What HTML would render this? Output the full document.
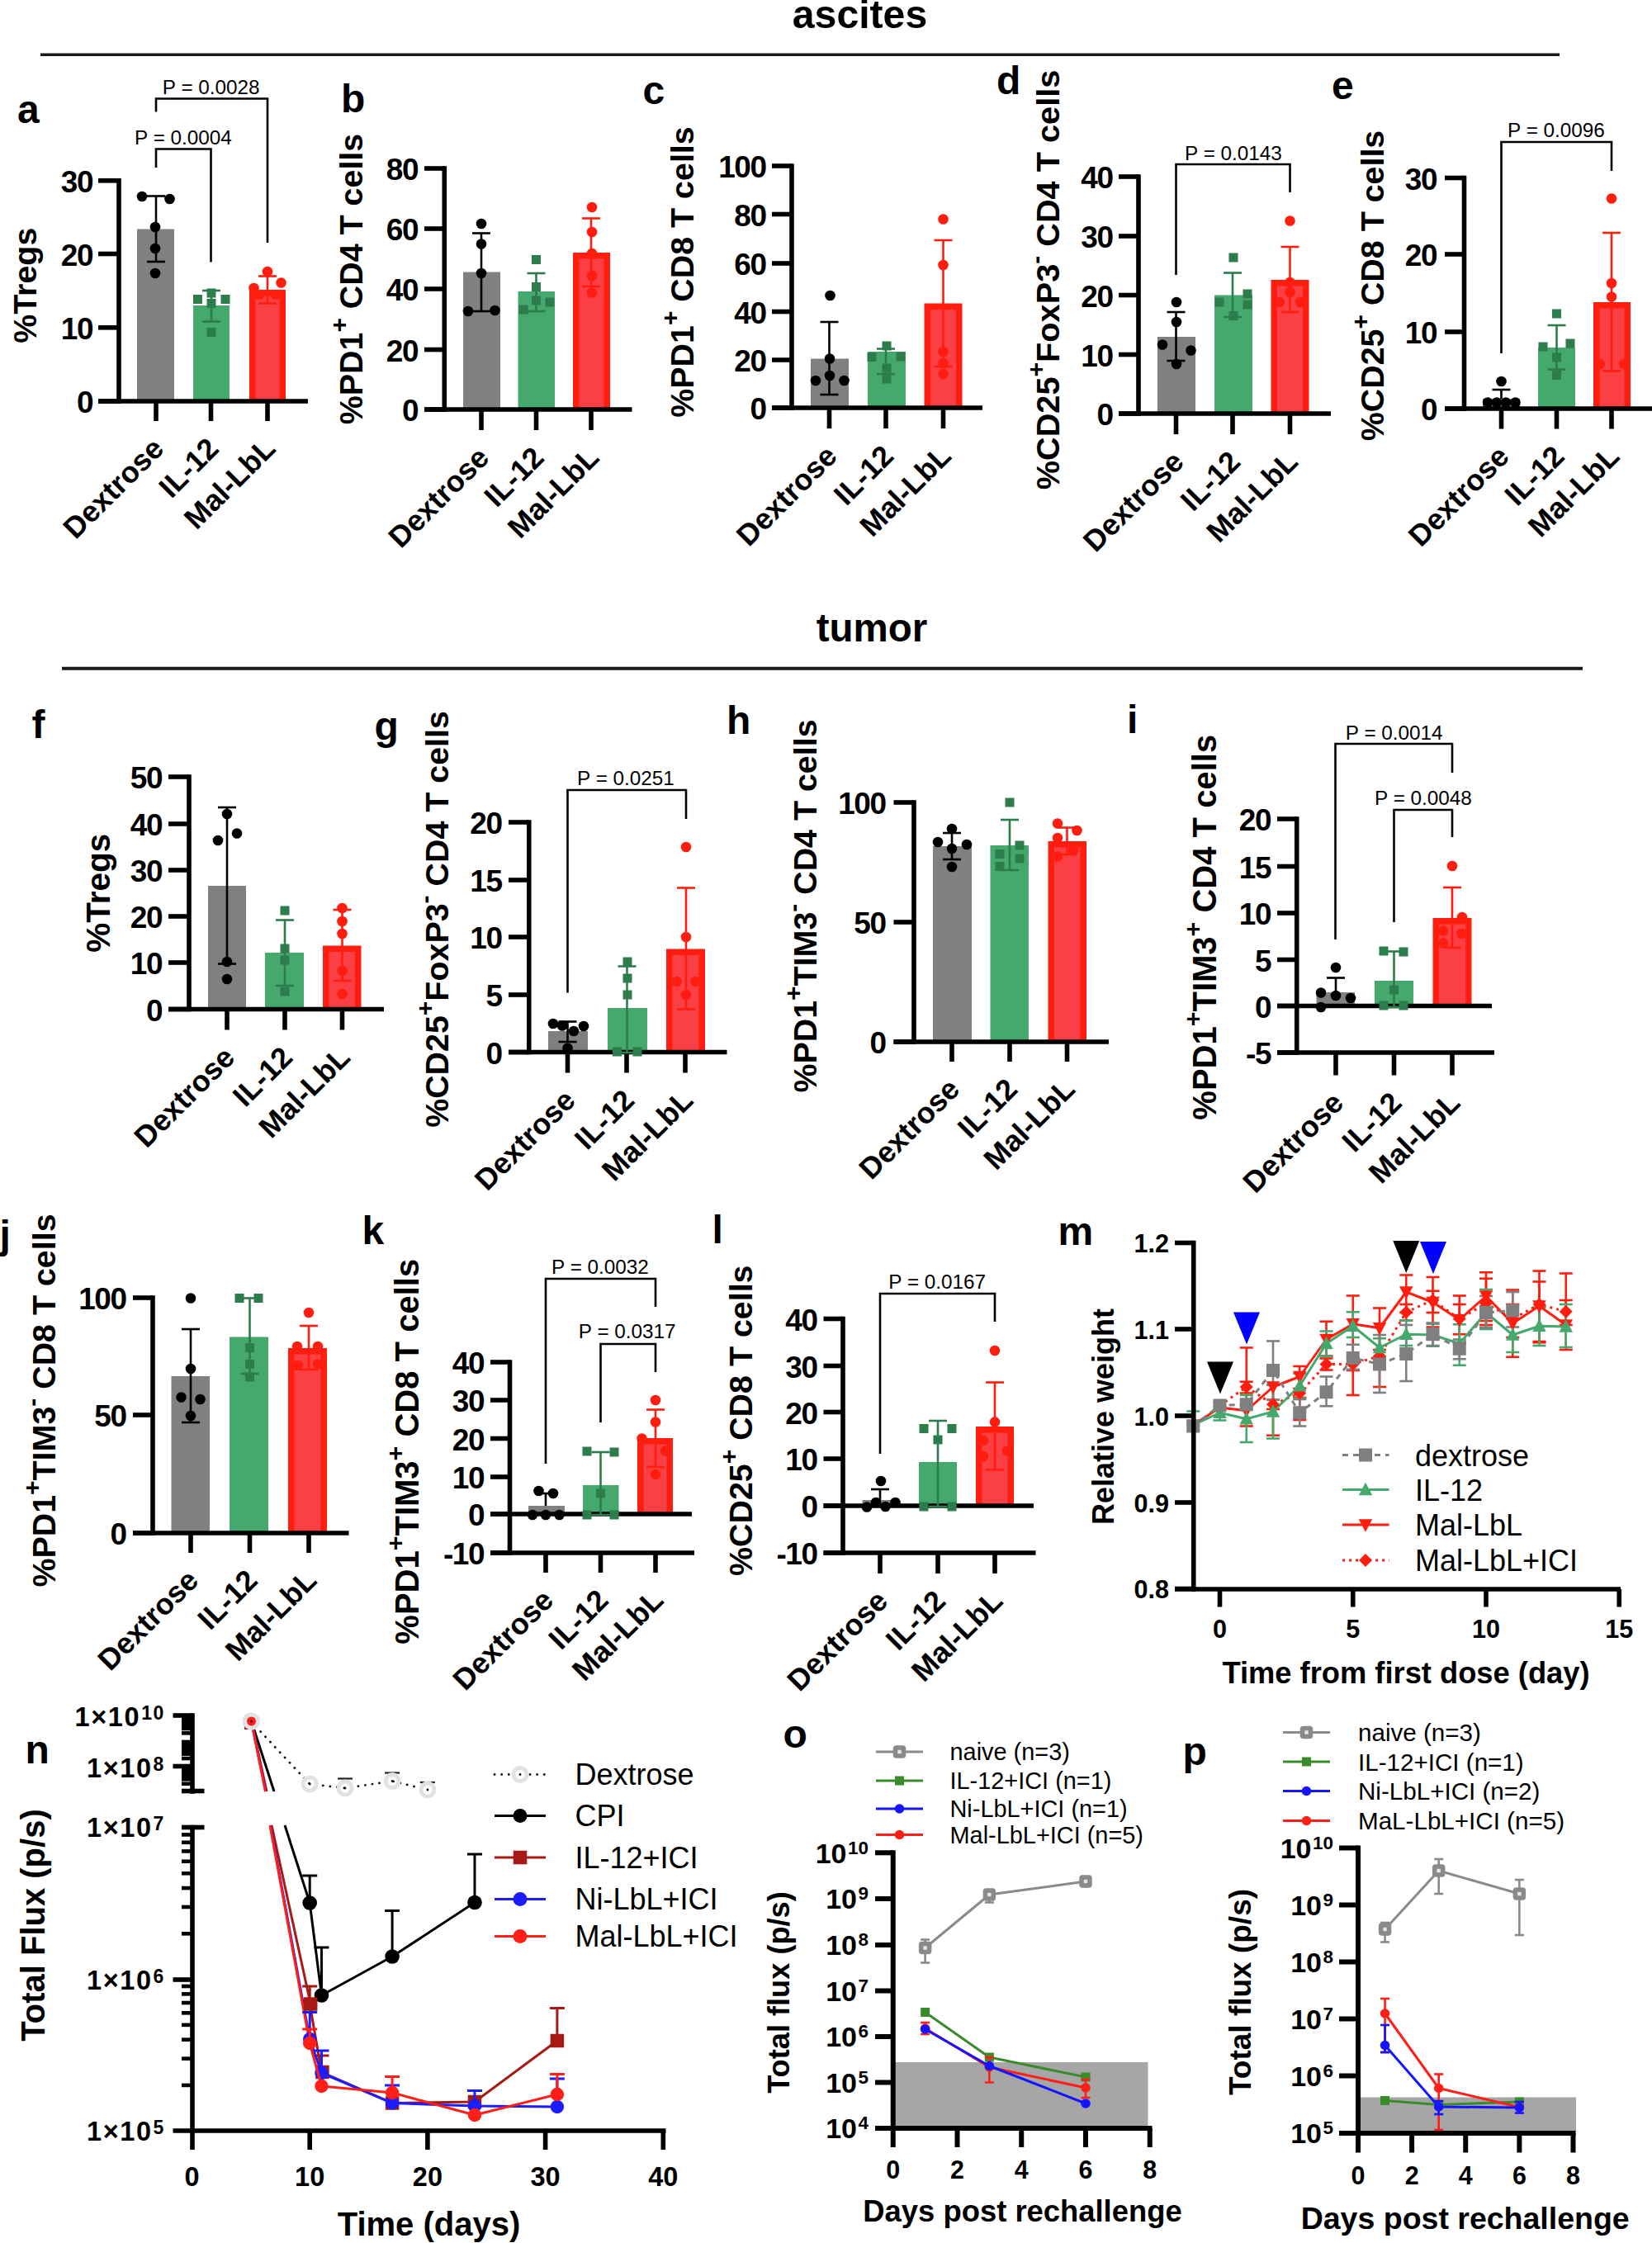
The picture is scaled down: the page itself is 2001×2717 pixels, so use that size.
<!DOCTYPE html>
<html><head><meta charset="utf-8"><title>figure</title>
<style>html,body{margin:0;padding:0;background:#fff}svg{display:block}text{font-family:'Liberation Sans', sans-serif}</style>
</head><body>
<svg width="2001" height="2717" viewBox="0 0 2001 2717">
<rect x="0" y="0" width="2001" height="2717" fill="#fff"/>
<text x="1041.5" y="34.4" font-size="48.2" font-weight="bold" text-anchor="middle" fill="#000" >ascites</text>
<line x1="49" y1="66.2" x2="1889" y2="66.2" stroke="#1a1a1a" stroke-width="3.6" />
<text x="1056" y="777" font-size="47.5" font-weight="bold" text-anchor="middle" fill="#000" >tumor</text>
<line x1="75" y1="809.7" x2="1917" y2="809.7" stroke="#1a1a1a" stroke-width="4" />
<rect x="166" y="277.5" width="45" height="208.5" fill="#808080" />
<rect x="234" y="370" width="44" height="116" fill="#45a96d" />
<rect x="302" y="351" width="44" height="135" fill="#ff1d10" />
<rect x="309.5" y="358.5" width="29" height="127.5" fill="#fa4044" />
<line x1="144" y1="216" x2="144" y2="488.8" stroke="#000" stroke-width="5.6" />
<line x1="119" y1="486" x2="373" y2="486" stroke="#000" stroke-width="5.6" />
<line x1="119" y1="218.8" x2="144" y2="218.8" stroke="#000" stroke-width="5.6" />
<text x="112" y="233.05" font-size="37" font-weight="bold" text-anchor="end" fill="#000" letter-spacing="-1.5">30</text>
<line x1="119" y1="307.5" x2="144" y2="307.5" stroke="#000" stroke-width="5.6" />
<text x="112" y="321.75" font-size="37" font-weight="bold" text-anchor="end" fill="#000" letter-spacing="-1.5">20</text>
<line x1="119" y1="396.8" x2="144" y2="396.8" stroke="#000" stroke-width="5.6" />
<text x="112" y="411.05" font-size="37" font-weight="bold" text-anchor="end" fill="#000" letter-spacing="-1.5">10</text>
<line x1="119" y1="486" x2="144" y2="486" stroke="#000" stroke-width="5.6" />
<text x="112" y="500.25" font-size="37" font-weight="bold" text-anchor="end" fill="#000" letter-spacing="-1.5">0</text>
<line x1="189" y1="486" x2="189" y2="510" stroke="#000" stroke-width="5.6" />
<line x1="255.5" y1="486" x2="255.5" y2="510" stroke="#000" stroke-width="5.6" />
<line x1="324" y1="486" x2="324" y2="510" stroke="#000" stroke-width="5.6" />
<line x1="189" y1="237.5" x2="189" y2="317" stroke="#000" stroke-width="2.6" />
<line x1="178" y1="237.5" x2="200" y2="237.5" stroke="#000" stroke-width="2.6" />
<line x1="178" y1="317" x2="200" y2="317" stroke="#000" stroke-width="2.6" />
<line x1="256" y1="352" x2="256" y2="389.5" stroke="#2c7c4c" stroke-width="2.6" />
<line x1="245" y1="352" x2="267" y2="352" stroke="#2c7c4c" stroke-width="2.6" />
<line x1="245" y1="389.5" x2="267" y2="389.5" stroke="#2c7c4c" stroke-width="2.6" />
<line x1="324" y1="334.5" x2="324" y2="367.5" stroke="#ff1d10" stroke-width="2.6" />
<line x1="313" y1="334.5" x2="335" y2="334.5" stroke="#ff1d10" stroke-width="2.6" />
<line x1="313" y1="367.5" x2="335" y2="367.5" stroke="#ff1d10" stroke-width="2.6" />
<circle cx="172" cy="238" r="6.3" fill="#000" />
<circle cx="205.5" cy="241" r="6.3" fill="#000" />
<circle cx="188" cy="275" r="6.3" fill="#000" />
<circle cx="188" cy="301" r="6.3" fill="#000" />
<circle cx="188" cy="331" r="6.3" fill="#000" />
<rect x="234" y="357" width="11" height="11" fill="#2c7c4c" />
<rect x="250.5" y="349.5" width="11" height="11" fill="#2c7c4c" />
<rect x="267.5" y="357" width="11" height="11" fill="#2c7c4c" />
<rect x="250.5" y="362" width="11" height="11" fill="#2c7c4c" />
<rect x="250.5" y="397" width="11" height="11" fill="#2c7c4c" />
<circle cx="324" cy="329" r="6.3" fill="#ff1d10" />
<circle cx="340.5" cy="342.5" r="6.3" fill="#ff1d10" />
<circle cx="307.5" cy="349" r="6.3" fill="#ff1d10" />
<circle cx="314" cy="357" r="6.3" fill="#ff1d10" />
<circle cx="334" cy="357" r="6.3" fill="#ff1d10" />
<text x="0" y="0" transform="translate(200.5 545.5) rotate(-45)" font-size="36" font-weight="bold" text-anchor="end" fill="#000" >Dextrose</text>
<text x="0" y="0" transform="translate(267 545.5) rotate(-45)" font-size="36" font-weight="bold" text-anchor="end" fill="#000" >IL-12</text>
<text x="0" y="0" transform="translate(335.5 545.5) rotate(-45)" font-size="36" font-weight="bold" text-anchor="end" fill="#000" >Mal-LbL</text>
<text x="0" y="0" transform="translate(44 345.75) rotate(-90)" font-size="39.4" font-weight="bold" text-anchor="middle" ><tspan dy="0">%Tregs</tspan></text>
<text x="21" y="148.5" font-size="48" font-weight="bold" text-anchor="start" fill="#000" >a</text>
<text x="255.75" y="114" font-size="24.3" font-weight="normal" text-anchor="middle" fill="#000" >P = 0.0028</text>
<path d="M189 135.5 V119.5 H324 V294" fill="none" stroke="#000" stroke-width="2.6"/>
<text x="222" y="175" font-size="24.3" font-weight="normal" text-anchor="middle" fill="#000" >P = 0.0004</text>
<path d="M189 203 V180.5 H255.5 V317.5" fill="none" stroke="#000" stroke-width="2.6"/>
<rect x="561" y="329.5" width="45" height="166.5" fill="#808080" />
<rect x="627.5" y="353" width="44.5" height="143" fill="#45a96d" />
<rect x="694" y="306" width="45" height="190" fill="#ff1d10" />
<rect x="701.5" y="313.5" width="30" height="182.5" fill="#fa4044" />
<line x1="538.3" y1="201.2" x2="538.3" y2="498.8" stroke="#000" stroke-width="5.6" />
<line x1="514" y1="496" x2="765.5" y2="496" stroke="#000" stroke-width="5.6" />
<line x1="514" y1="204" x2="538.3" y2="204" stroke="#000" stroke-width="5.6" />
<text x="506" y="218.25" font-size="37" font-weight="bold" text-anchor="end" fill="#000" letter-spacing="-1.5">80</text>
<line x1="514" y1="277" x2="538.3" y2="277" stroke="#000" stroke-width="5.6" />
<text x="506" y="291.25" font-size="37" font-weight="bold" text-anchor="end" fill="#000" letter-spacing="-1.5">60</text>
<line x1="514" y1="350" x2="538.3" y2="350" stroke="#000" stroke-width="5.6" />
<text x="506" y="364.25" font-size="37" font-weight="bold" text-anchor="end" fill="#000" letter-spacing="-1.5">40</text>
<line x1="514" y1="423.5" x2="538.3" y2="423.5" stroke="#000" stroke-width="5.6" />
<text x="506" y="437.75" font-size="37" font-weight="bold" text-anchor="end" fill="#000" letter-spacing="-1.5">20</text>
<line x1="514" y1="496" x2="538.3" y2="496" stroke="#000" stroke-width="5.6" />
<text x="506" y="510.25" font-size="37" font-weight="bold" text-anchor="end" fill="#000" letter-spacing="-1.5">0</text>
<line x1="583" y1="496" x2="583" y2="521" stroke="#000" stroke-width="5.6" />
<line x1="649.5" y1="496" x2="649.5" y2="521" stroke="#000" stroke-width="5.6" />
<line x1="716" y1="496" x2="716" y2="521" stroke="#000" stroke-width="5.6" />
<line x1="583" y1="282.5" x2="583" y2="377" stroke="#000" stroke-width="2.6" />
<line x1="572" y1="282.5" x2="594" y2="282.5" stroke="#000" stroke-width="2.6" />
<line x1="572" y1="377" x2="594" y2="377" stroke="#000" stroke-width="2.6" />
<line x1="649.5" y1="331" x2="649.5" y2="377" stroke="#2c7c4c" stroke-width="2.6" />
<line x1="638.5" y1="331" x2="660.5" y2="331" stroke="#2c7c4c" stroke-width="2.6" />
<line x1="638.5" y1="377" x2="660.5" y2="377" stroke="#2c7c4c" stroke-width="2.6" />
<line x1="716" y1="264.5" x2="716" y2="347" stroke="#ff1d10" stroke-width="2.6" />
<line x1="705" y1="264.5" x2="727" y2="264.5" stroke="#ff1d10" stroke-width="2.6" />
<line x1="705" y1="347" x2="727" y2="347" stroke="#ff1d10" stroke-width="2.6" />
<circle cx="583" cy="271" r="6.3" fill="#000" />
<circle cx="583" cy="295.5" r="6.3" fill="#000" />
<circle cx="583" cy="331" r="6.3" fill="#000" />
<circle cx="567" cy="377" r="6.3" fill="#000" />
<circle cx="599.5" cy="376" r="6.3" fill="#000" />
<rect x="644" y="309" width="11" height="11" fill="#2c7c4c" />
<rect x="644" y="342" width="11" height="11" fill="#2c7c4c" />
<rect x="644" y="358.5" width="11" height="11" fill="#2c7c4c" />
<rect x="660.5" y="360.5" width="11" height="11" fill="#2c7c4c" />
<rect x="628.5" y="369.5" width="11" height="11" fill="#2c7c4c" />
<circle cx="717" cy="251" r="6.3" fill="#ff1d10" />
<circle cx="717" cy="281" r="6.3" fill="#ff1d10" />
<circle cx="717" cy="307" r="6.3" fill="#ff1d10" />
<circle cx="717" cy="334" r="6.3" fill="#ff1d10" />
<circle cx="717" cy="354.5" r="6.3" fill="#ff1d10" />
<text x="0" y="0" transform="translate(594.5 556.5) rotate(-45)" font-size="36" font-weight="bold" text-anchor="end" fill="#000" >Dextrose</text>
<text x="0" y="0" transform="translate(661 556.5) rotate(-45)" font-size="36" font-weight="bold" text-anchor="end" fill="#000" >IL-12</text>
<text x="0" y="0" transform="translate(727.5 556.5) rotate(-45)" font-size="36" font-weight="bold" text-anchor="end" fill="#000" >Mal-LbL</text>
<text x="0" y="0" transform="translate(439 338) rotate(-90)" font-size="39.4" font-weight="bold" text-anchor="middle" ><tspan dy="0">%PD1</tspan><tspan dy="-17.73" font-size="29.94">+</tspan><tspan dy="17.73"> CD4 T cells</tspan></text>
<text x="413" y="135.5" font-size="48" font-weight="bold" text-anchor="start" fill="#000" >b</text>
<rect x="982" y="434.5" width="46" height="59.5" fill="#808080" />
<rect x="1051" y="426" width="46" height="68" fill="#45a96d" />
<rect x="1119.5" y="367.5" width="46" height="126.5" fill="#ff1d10" />
<rect x="1127" y="375" width="31" height="119" fill="#fa4044" />
<line x1="959" y1="198.2" x2="959" y2="496.8" stroke="#000" stroke-width="5.6" />
<line x1="935" y1="494" x2="1190" y2="494" stroke="#000" stroke-width="5.6" />
<line x1="935" y1="201" x2="959" y2="201" stroke="#000" stroke-width="5.6" />
<text x="927.5" y="215.25" font-size="37" font-weight="bold" text-anchor="end" fill="#000" letter-spacing="-1.5">100</text>
<line x1="935" y1="259.5" x2="959" y2="259.5" stroke="#000" stroke-width="5.6" />
<text x="927.5" y="273.75" font-size="37" font-weight="bold" text-anchor="end" fill="#000" letter-spacing="-1.5">80</text>
<line x1="935" y1="319" x2="959" y2="319" stroke="#000" stroke-width="5.6" />
<text x="927.5" y="333.25" font-size="37" font-weight="bold" text-anchor="end" fill="#000" letter-spacing="-1.5">60</text>
<line x1="935" y1="377.5" x2="959" y2="377.5" stroke="#000" stroke-width="5.6" />
<text x="927.5" y="391.75" font-size="37" font-weight="bold" text-anchor="end" fill="#000" letter-spacing="-1.5">40</text>
<line x1="935" y1="436" x2="959" y2="436" stroke="#000" stroke-width="5.6" />
<text x="927.5" y="450.25" font-size="37" font-weight="bold" text-anchor="end" fill="#000" letter-spacing="-1.5">20</text>
<line x1="935" y1="494" x2="959" y2="494" stroke="#000" stroke-width="5.6" />
<text x="927.5" y="508.25" font-size="37" font-weight="bold" text-anchor="end" fill="#000" letter-spacing="-1.5">0</text>
<line x1="1004.5" y1="494" x2="1004.5" y2="519" stroke="#000" stroke-width="5.6" />
<line x1="1073" y1="494" x2="1073" y2="519" stroke="#000" stroke-width="5.6" />
<line x1="1142.5" y1="494" x2="1142.5" y2="519" stroke="#000" stroke-width="5.6" />
<line x1="1004.5" y1="390" x2="1004.5" y2="478" stroke="#000" stroke-width="2.6" />
<line x1="993.5" y1="390" x2="1015.5" y2="390" stroke="#000" stroke-width="2.6" />
<line x1="993.5" y1="478" x2="1015.5" y2="478" stroke="#000" stroke-width="2.6" />
<line x1="1073" y1="422.5" x2="1073" y2="453" stroke="#2c7c4c" stroke-width="2.6" />
<line x1="1062" y1="422.5" x2="1084" y2="422.5" stroke="#2c7c4c" stroke-width="2.6" />
<line x1="1062" y1="453" x2="1084" y2="453" stroke="#2c7c4c" stroke-width="2.6" />
<line x1="1142.5" y1="291" x2="1142.5" y2="444" stroke="#ff1d10" stroke-width="2.6" />
<line x1="1131.5" y1="291" x2="1153.5" y2="291" stroke="#ff1d10" stroke-width="2.6" />
<line x1="1131.5" y1="444" x2="1153.5" y2="444" stroke="#ff1d10" stroke-width="2.6" />
<circle cx="1005.5" cy="358" r="6.3" fill="#000" />
<circle cx="1005" cy="434.5" r="6.3" fill="#000" />
<circle cx="1005" cy="455" r="6.3" fill="#000" />
<circle cx="988" cy="461" r="6.3" fill="#000" />
<circle cx="1022.5" cy="461" r="6.3" fill="#000" />
<rect x="1068.5" y="413.5" width="11" height="11" fill="#2c7c4c" />
<rect x="1050.5" y="427" width="11" height="11" fill="#2c7c4c" />
<rect x="1085.5" y="426.5" width="11" height="11" fill="#2c7c4c" />
<rect x="1068.5" y="440.5" width="11" height="11" fill="#2c7c4c" />
<rect x="1068.5" y="453.5" width="11" height="11" fill="#2c7c4c" />
<circle cx="1142.5" cy="265.5" r="6.3" fill="#ff1d10" />
<circle cx="1142.5" cy="321" r="6.3" fill="#ff1d10" />
<circle cx="1142.5" cy="426" r="6.3" fill="#ff1d10" />
<circle cx="1142.5" cy="453" r="6.3" fill="#ff1d10" />
<circle cx="1142.5" cy="440" r="6.3" fill="#ff1d10" />
<text x="0" y="0" transform="translate(1016 554.5) rotate(-45)" font-size="36" font-weight="bold" text-anchor="end" fill="#000" >Dextrose</text>
<text x="0" y="0" transform="translate(1084.5 554.5) rotate(-45)" font-size="36" font-weight="bold" text-anchor="end" fill="#000" >IL-12</text>
<text x="0" y="0" transform="translate(1154 554.5) rotate(-45)" font-size="36" font-weight="bold" text-anchor="end" fill="#000" >Mal-LbL</text>
<text x="0" y="0" transform="translate(840 329.5) rotate(-90)" font-size="39.4" font-weight="bold" text-anchor="middle" ><tspan dy="0">%PD1</tspan><tspan dy="-17.73" font-size="29.94">+</tspan><tspan dy="17.73"> CD8 T cells</tspan></text>
<text x="778.5" y="126" font-size="48" font-weight="bold" text-anchor="start" fill="#000" >c</text>
<rect x="1402" y="408" width="46" height="93" fill="#808080" />
<rect x="1471" y="357.5" width="46" height="143.5" fill="#45a96d" />
<rect x="1539.5" y="339" width="46" height="162" fill="#ff1d10" />
<rect x="1547" y="346.5" width="31" height="154.5" fill="#fa4044" />
<line x1="1379" y1="211.2" x2="1379" y2="503.8" stroke="#000" stroke-width="5.6" />
<line x1="1355" y1="501" x2="1612" y2="501" stroke="#000" stroke-width="5.6" />
<line x1="1355" y1="214" x2="1379" y2="214" stroke="#000" stroke-width="5.6" />
<text x="1347.5" y="228.25" font-size="37" font-weight="bold" text-anchor="end" fill="#000" letter-spacing="-1.5">40</text>
<line x1="1355" y1="286" x2="1379" y2="286" stroke="#000" stroke-width="5.6" />
<text x="1347.5" y="300.25" font-size="37" font-weight="bold" text-anchor="end" fill="#000" letter-spacing="-1.5">30</text>
<line x1="1355" y1="357.5" x2="1379" y2="357.5" stroke="#000" stroke-width="5.6" />
<text x="1347.5" y="371.75" font-size="37" font-weight="bold" text-anchor="end" fill="#000" letter-spacing="-1.5">20</text>
<line x1="1355" y1="429.5" x2="1379" y2="429.5" stroke="#000" stroke-width="5.6" />
<text x="1347.5" y="443.75" font-size="37" font-weight="bold" text-anchor="end" fill="#000" letter-spacing="-1.5">10</text>
<line x1="1355" y1="501" x2="1379" y2="501" stroke="#000" stroke-width="5.6" />
<text x="1347.5" y="515.25" font-size="37" font-weight="bold" text-anchor="end" fill="#000" letter-spacing="-1.5">0</text>
<line x1="1424.5" y1="501" x2="1424.5" y2="526" stroke="#000" stroke-width="5.6" />
<line x1="1493" y1="501" x2="1493" y2="526" stroke="#000" stroke-width="5.6" />
<line x1="1562.5" y1="501" x2="1562.5" y2="526" stroke="#000" stroke-width="5.6" />
<line x1="1424.5" y1="378" x2="1424.5" y2="437" stroke="#000" stroke-width="2.6" />
<line x1="1413.5" y1="378" x2="1435.5" y2="378" stroke="#000" stroke-width="2.6" />
<line x1="1413.5" y1="437" x2="1435.5" y2="437" stroke="#000" stroke-width="2.6" />
<line x1="1493" y1="330.5" x2="1493" y2="384" stroke="#2c7c4c" stroke-width="2.6" />
<line x1="1482" y1="330.5" x2="1504" y2="330.5" stroke="#2c7c4c" stroke-width="2.6" />
<line x1="1482" y1="384" x2="1504" y2="384" stroke="#2c7c4c" stroke-width="2.6" />
<line x1="1562.5" y1="299" x2="1562.5" y2="378" stroke="#ff1d10" stroke-width="2.6" />
<line x1="1551.5" y1="299" x2="1573.5" y2="299" stroke="#ff1d10" stroke-width="2.6" />
<line x1="1551.5" y1="378" x2="1573.5" y2="378" stroke="#ff1d10" stroke-width="2.6" />
<circle cx="1425" cy="366" r="6.3" fill="#000" />
<circle cx="1425" cy="390" r="6.3" fill="#000" />
<circle cx="1408" cy="417.5" r="6.3" fill="#000" />
<circle cx="1442.5" cy="424.5" r="6.3" fill="#000" />
<circle cx="1425" cy="441" r="6.3" fill="#000" />
<rect x="1488.5" y="306.5" width="11" height="11" fill="#2c7c4c" />
<rect x="1505.5" y="350.5" width="11" height="11" fill="#2c7c4c" />
<rect x="1471.5" y="360.5" width="11" height="11" fill="#2c7c4c" />
<rect x="1505.5" y="363.5" width="11" height="11" fill="#2c7c4c" />
<rect x="1488.5" y="377" width="11" height="11" fill="#2c7c4c" />
<circle cx="1562.5" cy="267.5" r="6.3" fill="#ff1d10" />
<circle cx="1562.5" cy="354" r="6.3" fill="#ff1d10" />
<circle cx="1550" cy="366" r="6.3" fill="#ff1d10" />
<circle cx="1575" cy="366" r="6.3" fill="#ff1d10" />
<circle cx="1562.5" cy="342" r="6.3" fill="#ff1d10" />
<text x="0" y="0" transform="translate(1436 561.5) rotate(-45)" font-size="36" font-weight="bold" text-anchor="end" fill="#000" >Dextrose</text>
<text x="0" y="0" transform="translate(1504.5 561.5) rotate(-45)" font-size="36" font-weight="bold" text-anchor="end" fill="#000" >IL-12</text>
<text x="0" y="0" transform="translate(1574 561.5) rotate(-45)" font-size="36" font-weight="bold" text-anchor="end" fill="#000" >Mal-LbL</text>
<text x="0" y="0" transform="translate(1282.5 339) rotate(-90)" font-size="39.7" font-weight="bold" text-anchor="middle" ><tspan dy="0">%CD25</tspan><tspan dy="-17.87" font-size="30.17">+</tspan><tspan dy="17.87">FoxP3</tspan><tspan dy="-17.87" font-size="30.17">-</tspan><tspan dy="17.87"> CD4 T cells</tspan></text>
<text x="1207" y="114" font-size="48" font-weight="bold" text-anchor="start" fill="#000" >d</text>
<text x="1494" y="194" font-size="24.3" font-weight="normal" text-anchor="middle" fill="#000" >P = 0.0143</text>
<path d="M1424.5 333 V199 H1562.5 V233" fill="none" stroke="#000" stroke-width="2.6"/>
<rect x="1796" y="483" width="45" height="12" fill="#808080" />
<rect x="1863" y="421" width="45" height="74" fill="#45a96d" />
<rect x="1930" y="366" width="45" height="129" fill="#ff1d10" />
<rect x="1937.5" y="373.5" width="30" height="121.5" fill="#fa4044" />
<line x1="1773.5" y1="212.7" x2="1773.5" y2="497.8" stroke="#000" stroke-width="5.6" />
<line x1="1750" y1="495" x2="2001" y2="495" stroke="#000" stroke-width="5.6" />
<line x1="1750" y1="215.5" x2="1773.5" y2="215.5" stroke="#000" stroke-width="5.6" />
<text x="1740" y="229.75" font-size="37" font-weight="bold" text-anchor="end" fill="#000" letter-spacing="-1.5">30</text>
<line x1="1750" y1="308" x2="1773.5" y2="308" stroke="#000" stroke-width="5.6" />
<text x="1740" y="322.25" font-size="37" font-weight="bold" text-anchor="end" fill="#000" letter-spacing="-1.5">20</text>
<line x1="1750" y1="402" x2="1773.5" y2="402" stroke="#000" stroke-width="5.6" />
<text x="1740" y="416.25" font-size="37" font-weight="bold" text-anchor="end" fill="#000" letter-spacing="-1.5">10</text>
<line x1="1750" y1="495" x2="1773.5" y2="495" stroke="#000" stroke-width="5.6" />
<text x="1740" y="509.25" font-size="37" font-weight="bold" text-anchor="end" fill="#000" letter-spacing="-1.5">0</text>
<line x1="1818.5" y1="495" x2="1818.5" y2="519.5" stroke="#000" stroke-width="5.6" />
<line x1="1885.5" y1="495" x2="1885.5" y2="519.5" stroke="#000" stroke-width="5.6" />
<line x1="1952" y1="495" x2="1952" y2="519.5" stroke="#000" stroke-width="5.6" />
<line x1="1818.5" y1="472" x2="1818.5" y2="483" stroke="#000" stroke-width="2.6" />
<line x1="1807.5" y1="472" x2="1829.5" y2="472" stroke="#000" stroke-width="2.6" />
<line x1="1885.5" y1="394" x2="1885.5" y2="447.5" stroke="#2c7c4c" stroke-width="2.6" />
<line x1="1874.5" y1="394" x2="1896.5" y2="394" stroke="#2c7c4c" stroke-width="2.6" />
<line x1="1874.5" y1="447.5" x2="1896.5" y2="447.5" stroke="#2c7c4c" stroke-width="2.6" />
<line x1="1952" y1="282" x2="1952" y2="449.5" stroke="#ff1d10" stroke-width="2.6" />
<line x1="1941" y1="282" x2="1963" y2="282" stroke="#ff1d10" stroke-width="2.6" />
<line x1="1941" y1="449.5" x2="1963" y2="449.5" stroke="#ff1d10" stroke-width="2.6" />
<circle cx="1818.5" cy="462" r="6.3" fill="#000" />
<circle cx="1802" cy="487.5" r="6.3" fill="#000" />
<circle cx="1813" cy="487.5" r="6.3" fill="#000" />
<circle cx="1824" cy="487.5" r="6.3" fill="#000" />
<circle cx="1835.5" cy="487.5" r="6.3" fill="#000" />
<rect x="1880" y="374.5" width="11" height="11" fill="#2c7c4c" />
<rect x="1863.5" y="414.5" width="11" height="11" fill="#2c7c4c" />
<rect x="1896.5" y="410.5" width="11" height="11" fill="#2c7c4c" />
<rect x="1880" y="427.5" width="11" height="11" fill="#2c7c4c" />
<rect x="1880" y="449" width="11" height="11" fill="#2c7c4c" />
<circle cx="1952" cy="240.5" r="6.3" fill="#ff1d10" />
<circle cx="1952" cy="343" r="6.3" fill="#ff1d10" />
<circle cx="1952" cy="359.5" r="6.3" fill="#ff1d10" />
<circle cx="1938" cy="441" r="6.3" fill="#ff1d10" />
<circle cx="1967" cy="441" r="6.3" fill="#ff1d10" />
<text x="0" y="0" transform="translate(1830 555) rotate(-45)" font-size="36" font-weight="bold" text-anchor="end" fill="#000" >Dextrose</text>
<text x="0" y="0" transform="translate(1897 555) rotate(-45)" font-size="36" font-weight="bold" text-anchor="end" fill="#000" >IL-12</text>
<text x="0" y="0" transform="translate(1963.5 555) rotate(-45)" font-size="36" font-weight="bold" text-anchor="end" fill="#000" >Mal-LbL</text>
<text x="0" y="0" transform="translate(1675.5 346) rotate(-90)" font-size="39.4" font-weight="bold" text-anchor="middle" ><tspan dy="0">%CD25</tspan><tspan dy="-17.73" font-size="29.94">+</tspan><tspan dy="17.73"> CD8 T cells</tspan></text>
<text x="1613" y="119.5" font-size="48" font-weight="bold" text-anchor="start" fill="#000" >e</text>
<text x="1885" y="166" font-size="24.3" font-weight="normal" text-anchor="middle" fill="#000" >P = 0.0096</text>
<path d="M1818.5 428 V172 H1952 V207" fill="none" stroke="#000" stroke-width="2.6"/>
<rect x="252" y="1073" width="46" height="149.5" fill="#808080" />
<rect x="321" y="1154" width="47" height="68.5" fill="#45a96d" />
<rect x="391" y="1145.5" width="46.5" height="77" fill="#ff1d10" />
<rect x="398.5" y="1153" width="31.5" height="69.5" fill="#fa4044" />
<line x1="229" y1="938.2" x2="229" y2="1225.3" stroke="#000" stroke-width="5.6" />
<line x1="204" y1="1222.5" x2="465" y2="1222.5" stroke="#000" stroke-width="5.6" />
<line x1="204" y1="941" x2="229" y2="941" stroke="#000" stroke-width="5.6" />
<text x="196" y="955.25" font-size="37" font-weight="bold" text-anchor="end" fill="#000" letter-spacing="-1.5">50</text>
<line x1="204" y1="998" x2="229" y2="998" stroke="#000" stroke-width="5.6" />
<text x="196" y="1012.25" font-size="37" font-weight="bold" text-anchor="end" fill="#000" letter-spacing="-1.5">40</text>
<line x1="204" y1="1054" x2="229" y2="1054" stroke="#000" stroke-width="5.6" />
<text x="196" y="1068.25" font-size="37" font-weight="bold" text-anchor="end" fill="#000" letter-spacing="-1.5">30</text>
<line x1="204" y1="1110" x2="229" y2="1110" stroke="#000" stroke-width="5.6" />
<text x="196" y="1124.25" font-size="37" font-weight="bold" text-anchor="end" fill="#000" letter-spacing="-1.5">20</text>
<line x1="204" y1="1166" x2="229" y2="1166" stroke="#000" stroke-width="5.6" />
<text x="196" y="1180.25" font-size="37" font-weight="bold" text-anchor="end" fill="#000" letter-spacing="-1.5">10</text>
<line x1="204" y1="1222.5" x2="229" y2="1222.5" stroke="#000" stroke-width="5.6" />
<text x="196" y="1236.75" font-size="37" font-weight="bold" text-anchor="end" fill="#000" letter-spacing="-1.5">0</text>
<line x1="275" y1="1222.5" x2="275" y2="1247.5" stroke="#000" stroke-width="5.6" />
<line x1="345" y1="1222.5" x2="345" y2="1247.5" stroke="#000" stroke-width="5.6" />
<line x1="414.5" y1="1222.5" x2="414.5" y2="1247.5" stroke="#000" stroke-width="5.6" />
<line x1="275" y1="978" x2="275" y2="1167.5" stroke="#000" stroke-width="2.6" />
<line x1="264" y1="978" x2="286" y2="978" stroke="#000" stroke-width="2.6" />
<line x1="264" y1="1167.5" x2="286" y2="1167.5" stroke="#000" stroke-width="2.6" />
<line x1="345" y1="1114.5" x2="345" y2="1194" stroke="#2c7c4c" stroke-width="2.6" />
<line x1="334" y1="1114.5" x2="356" y2="1114.5" stroke="#2c7c4c" stroke-width="2.6" />
<line x1="334" y1="1194" x2="356" y2="1194" stroke="#2c7c4c" stroke-width="2.6" />
<line x1="414.5" y1="1102" x2="414.5" y2="1188" stroke="#ff1d10" stroke-width="2.6" />
<line x1="403.5" y1="1102" x2="425.5" y2="1102" stroke="#ff1d10" stroke-width="2.6" />
<line x1="403.5" y1="1188" x2="425.5" y2="1188" stroke="#ff1d10" stroke-width="2.6" />
<circle cx="275" cy="986" r="6.3" fill="#000" />
<circle cx="287" cy="1009.5" r="6.3" fill="#000" />
<circle cx="264" cy="1018" r="6.3" fill="#000" />
<circle cx="275" cy="1165" r="6.3" fill="#000" />
<circle cx="275" cy="1186" r="6.3" fill="#000" />
<rect x="339.5" y="1097.5" width="11" height="11" fill="#2c7c4c" />
<rect x="339.5" y="1143.5" width="11" height="11" fill="#2c7c4c" />
<rect x="339.5" y="1157.5" width="11" height="11" fill="#2c7c4c" />
<rect x="339.5" y="1195.5" width="11" height="11" fill="#2c7c4c" />
<circle cx="414.5" cy="1100" r="6.3" fill="#ff1d10" />
<circle cx="414.5" cy="1116" r="6.3" fill="#ff1d10" />
<circle cx="414.5" cy="1131" r="6.3" fill="#ff1d10" />
<circle cx="414.5" cy="1176" r="6.3" fill="#ff1d10" />
<circle cx="414.5" cy="1204" r="6.3" fill="#ff1d10" />
<text x="0" y="0" transform="translate(286.5 1283) rotate(-45)" font-size="36" font-weight="bold" text-anchor="end" fill="#000" >Dextrose</text>
<text x="0" y="0" transform="translate(356.5 1283) rotate(-45)" font-size="36" font-weight="bold" text-anchor="end" fill="#000" >IL-12</text>
<text x="0" y="0" transform="translate(426 1283) rotate(-45)" font-size="36" font-weight="bold" text-anchor="end" fill="#000" >Mal-LbL</text>
<text x="0" y="0" transform="translate(132.5 1081.75) rotate(-90)" font-size="40.5" font-weight="bold" text-anchor="middle" ><tspan dy="0">%Tregs</tspan></text>
<text x="38.5" y="894" font-size="48" font-weight="bold" text-anchor="start" fill="#000" >f</text>
<rect x="664" y="1249" width="48" height="25.5" fill="#808080" />
<rect x="736" y="1221" width="48" height="53.5" fill="#45a96d" />
<rect x="807" y="1149.5" width="47" height="125" fill="#ff1d10" />
<rect x="814.5" y="1157" width="32" height="117.5" fill="#fa4044" />
<line x1="640.75" y1="993.2" x2="640.75" y2="1277.3" stroke="#000" stroke-width="5.6" />
<line x1="616" y1="1274.5" x2="880.5" y2="1274.5" stroke="#000" stroke-width="5.6" />
<line x1="616" y1="996" x2="640.75" y2="996" stroke="#000" stroke-width="5.6" />
<text x="607.5" y="1010.25" font-size="37" font-weight="bold" text-anchor="end" fill="#000" letter-spacing="-1.5">20</text>
<line x1="616" y1="1066" x2="640.75" y2="1066" stroke="#000" stroke-width="5.6" />
<text x="607.5" y="1080.25" font-size="37" font-weight="bold" text-anchor="end" fill="#000" letter-spacing="-1.5">15</text>
<line x1="616" y1="1135" x2="640.75" y2="1135" stroke="#000" stroke-width="5.6" />
<text x="607.5" y="1149.25" font-size="37" font-weight="bold" text-anchor="end" fill="#000" letter-spacing="-1.5">10</text>
<line x1="616" y1="1205" x2="640.75" y2="1205" stroke="#000" stroke-width="5.6" />
<text x="607.5" y="1219.25" font-size="37" font-weight="bold" text-anchor="end" fill="#000" letter-spacing="-1.5">5</text>
<line x1="616" y1="1274.5" x2="640.75" y2="1274.5" stroke="#000" stroke-width="5.6" />
<text x="607.5" y="1288.75" font-size="37" font-weight="bold" text-anchor="end" fill="#000" letter-spacing="-1.5">0</text>
<line x1="687.5" y1="1274.5" x2="687.5" y2="1299.5" stroke="#000" stroke-width="5.6" />
<line x1="759" y1="1274.5" x2="759" y2="1299.5" stroke="#000" stroke-width="5.6" />
<line x1="830" y1="1274.5" x2="830" y2="1299.5" stroke="#000" stroke-width="5.6" />
<line x1="687.5" y1="1237.5" x2="687.5" y2="1262" stroke="#000" stroke-width="2.6" />
<line x1="676.5" y1="1237.5" x2="698.5" y2="1237.5" stroke="#000" stroke-width="2.6" />
<line x1="676.5" y1="1262" x2="698.5" y2="1262" stroke="#000" stroke-width="2.6" />
<line x1="759.5" y1="1170.5" x2="759.5" y2="1275" stroke="#2c7c4c" stroke-width="2.6" />
<line x1="748.5" y1="1170.5" x2="770.5" y2="1170.5" stroke="#2c7c4c" stroke-width="2.6" />
<line x1="748.5" y1="1275" x2="770.5" y2="1275" stroke="#2c7c4c" stroke-width="2.6" />
<line x1="831" y1="1075.5" x2="831" y2="1222.5" stroke="#ff1d10" stroke-width="2.6" />
<line x1="820" y1="1075.5" x2="842" y2="1075.5" stroke="#ff1d10" stroke-width="2.6" />
<line x1="820" y1="1222.5" x2="842" y2="1222.5" stroke="#ff1d10" stroke-width="2.6" />
<circle cx="670" cy="1240" r="6.3" fill="#000" />
<circle cx="681" cy="1242.5" r="6.3" fill="#000" />
<circle cx="695" cy="1249" r="6.3" fill="#000" />
<circle cx="707" cy="1243" r="6.3" fill="#000" />
<circle cx="687.5" cy="1269.5" r="6.3" fill="#000" />
<rect x="754.5" y="1159.5" width="11" height="11" fill="#2c7c4c" />
<rect x="754.5" y="1179.5" width="11" height="11" fill="#2c7c4c" />
<rect x="754.5" y="1199.5" width="11" height="11" fill="#2c7c4c" />
<rect x="742" y="1268.5" width="11" height="11" fill="#2c7c4c" />
<rect x="766.5" y="1268.5" width="11" height="11" fill="#2c7c4c" />
<circle cx="831" cy="1026" r="6.3" fill="#ff1d10" />
<circle cx="831" cy="1135" r="6.3" fill="#ff1d10" />
<circle cx="819.5" cy="1189" r="6.3" fill="#ff1d10" />
<circle cx="842.5" cy="1189" r="6.3" fill="#ff1d10" />
<circle cx="831" cy="1205" r="6.3" fill="#ff1d10" />
<text x="0" y="0" transform="translate(699 1335) rotate(-45)" font-size="36" font-weight="bold" text-anchor="end" fill="#000" >Dextrose</text>
<text x="0" y="0" transform="translate(770.5 1335) rotate(-45)" font-size="36" font-weight="bold" text-anchor="end" fill="#000" >IL-12</text>
<text x="0" y="0" transform="translate(841.5 1335) rotate(-45)" font-size="36" font-weight="bold" text-anchor="end" fill="#000" >Mal-LbL</text>
<text x="0" y="0" transform="translate(542.5 1113.5) rotate(-90)" font-size="39.4" font-weight="bold" text-anchor="middle" ><tspan dy="0">%CD25</tspan><tspan dy="-17.73" font-size="29.94">+</tspan><tspan dy="17.73">FoxP3</tspan><tspan dy="-17.73" font-size="29.94">-</tspan><tspan dy="17.73"> CD4 T cells</tspan></text>
<text x="453.5" y="895.5" font-size="48" font-weight="bold" text-anchor="start" fill="#000" >g</text>
<text x="758" y="951" font-size="24.3" font-weight="normal" text-anchor="middle" fill="#000" >P = 0.0251</text>
<path d="M687.5 1202.5 V957 H831 V992" fill="none" stroke="#000" stroke-width="2.6"/>
<rect x="1130" y="1025" width="47" height="237" fill="#808080" />
<rect x="1199.5" y="1024" width="46.5" height="238" fill="#45a96d" />
<rect x="1269.5" y="1019" width="46.5" height="243" fill="#ff1d10" />
<rect x="1277" y="1026.5" width="31.5" height="235.5" fill="#fa4044" />
<line x1="1107" y1="969.2" x2="1107" y2="1264.8" stroke="#000" stroke-width="5.6" />
<line x1="1082.5" y1="1262" x2="1343" y2="1262" stroke="#000" stroke-width="5.6" />
<line x1="1082.5" y1="972" x2="1107" y2="972" stroke="#000" stroke-width="5.6" />
<text x="1072.5" y="986.25" font-size="37" font-weight="bold" text-anchor="end" fill="#000" letter-spacing="-1.5">100</text>
<line x1="1082.5" y1="1117" x2="1107" y2="1117" stroke="#000" stroke-width="5.6" />
<text x="1072.5" y="1131.25" font-size="37" font-weight="bold" text-anchor="end" fill="#000" letter-spacing="-1.5">50</text>
<line x1="1082.5" y1="1262" x2="1107" y2="1262" stroke="#000" stroke-width="5.6" />
<text x="1072.5" y="1276.25" font-size="37" font-weight="bold" text-anchor="end" fill="#000" letter-spacing="-1.5">0</text>
<line x1="1153" y1="1262" x2="1153" y2="1286" stroke="#000" stroke-width="5.6" />
<line x1="1223" y1="1262" x2="1223" y2="1286" stroke="#000" stroke-width="5.6" />
<line x1="1292.5" y1="1262" x2="1292.5" y2="1286" stroke="#000" stroke-width="5.6" />
<line x1="1153" y1="1009" x2="1153" y2="1041" stroke="#000" stroke-width="2.6" />
<line x1="1142" y1="1009" x2="1164" y2="1009" stroke="#000" stroke-width="2.6" />
<line x1="1142" y1="1041" x2="1164" y2="1041" stroke="#000" stroke-width="2.6" />
<line x1="1223" y1="993" x2="1223" y2="1054" stroke="#2c7c4c" stroke-width="2.6" />
<line x1="1212" y1="993" x2="1234" y2="993" stroke="#2c7c4c" stroke-width="2.6" />
<line x1="1212" y1="1054" x2="1234" y2="1054" stroke="#2c7c4c" stroke-width="2.6" />
<line x1="1292.5" y1="1002.5" x2="1292.5" y2="1035" stroke="#ff1d10" stroke-width="2.6" />
<line x1="1281.5" y1="1002.5" x2="1303.5" y2="1002.5" stroke="#ff1d10" stroke-width="2.6" />
<line x1="1281.5" y1="1035" x2="1303.5" y2="1035" stroke="#ff1d10" stroke-width="2.6" />
<circle cx="1153" cy="1004" r="6.3" fill="#000" />
<circle cx="1136" cy="1020" r="6.3" fill="#000" />
<circle cx="1171" cy="1023" r="6.3" fill="#000" />
<circle cx="1153" cy="1028" r="6.3" fill="#000" />
<circle cx="1153" cy="1050" r="6.3" fill="#000" />
<rect x="1217.5" y="966.5" width="11" height="11" fill="#2c7c4c" />
<rect x="1229.5" y="1018.5" width="11" height="11" fill="#2c7c4c" />
<rect x="1205.5" y="1029" width="11" height="11" fill="#2c7c4c" />
<rect x="1229.5" y="1034.5" width="11" height="11" fill="#2c7c4c" />
<rect x="1205.5" y="1044" width="11" height="11" fill="#2c7c4c" />
<circle cx="1281" cy="997.5" r="6.3" fill="#ff1d10" />
<circle cx="1304.5" cy="1006" r="6.3" fill="#ff1d10" />
<circle cx="1281" cy="1015" r="6.3" fill="#ff1d10" />
<circle cx="1281" cy="1037.5" r="6.3" fill="#ff1d10" />
<circle cx="1300" cy="1030" r="6.3" fill="#ff1d10" />
<text x="0" y="0" transform="translate(1164.5 1321.5) rotate(-45)" font-size="36" font-weight="bold" text-anchor="end" fill="#000" >Dextrose</text>
<text x="0" y="0" transform="translate(1234.5 1321.5) rotate(-45)" font-size="36" font-weight="bold" text-anchor="end" fill="#000" >IL-12</text>
<text x="0" y="0" transform="translate(1304 1321.5) rotate(-45)" font-size="36" font-weight="bold" text-anchor="end" fill="#000" >Mal-LbL</text>
<text x="0" y="0" transform="translate(989 1097.5) rotate(-90)" font-size="39.4" font-weight="bold" text-anchor="middle" ><tspan dy="0">%PD1</tspan><tspan dy="-17.73" font-size="29.94">+</tspan><tspan dy="17.73">TIM3</tspan><tspan dy="-17.73" font-size="29.94">-</tspan><tspan dy="17.73"> CD4 T cells</tspan></text>
<text x="880" y="889" font-size="48" font-weight="bold" text-anchor="start" fill="#000" >h</text>
<rect x="1594.5" y="1202" width="46.5" height="16.5" fill="#808080" />
<rect x="1665" y="1188" width="47" height="30.5" fill="#45a96d" />
<rect x="1735.5" y="1112" width="47" height="106.5" fill="#ff1d10" />
<rect x="1743" y="1119.5" width="32" height="99" fill="#fa4044" />
<line x1="1570.75" y1="989.2" x2="1570.75" y2="1277.8" stroke="#000" stroke-width="5.6" />
<line x1="1547" y1="1275" x2="1810" y2="1275" stroke="#000" stroke-width="5.6" />
<line x1="1547" y1="1218.5" x2="1807" y2="1218.5" stroke="#000" stroke-width="5.6" />
<line x1="1547" y1="992" x2="1570.75" y2="992" stroke="#000" stroke-width="5.6" />
<text x="1539" y="1006.25" font-size="37" font-weight="bold" text-anchor="end" fill="#000" letter-spacing="-1.5">20</text>
<line x1="1547" y1="1049.5" x2="1570.75" y2="1049.5" stroke="#000" stroke-width="5.6" />
<text x="1539" y="1063.75" font-size="37" font-weight="bold" text-anchor="end" fill="#000" letter-spacing="-1.5">15</text>
<line x1="1547" y1="1106" x2="1570.75" y2="1106" stroke="#000" stroke-width="5.6" />
<text x="1539" y="1120.25" font-size="37" font-weight="bold" text-anchor="end" fill="#000" letter-spacing="-1.5">10</text>
<line x1="1547" y1="1162.5" x2="1570.75" y2="1162.5" stroke="#000" stroke-width="5.6" />
<text x="1539" y="1176.75" font-size="37" font-weight="bold" text-anchor="end" fill="#000" letter-spacing="-1.5">5</text>
<line x1="1547" y1="1218.5" x2="1570.75" y2="1218.5" stroke="#000" stroke-width="5.6" />
<text x="1539" y="1232.75" font-size="37" font-weight="bold" text-anchor="end" fill="#000" letter-spacing="-1.5">0</text>
<line x1="1547" y1="1275" x2="1570.75" y2="1275" stroke="#000" stroke-width="5.6" />
<text x="1539" y="1289.25" font-size="37" font-weight="bold" text-anchor="end" fill="#000" letter-spacing="-1.5">-5</text>
<line x1="1618" y1="1275" x2="1618" y2="1302.5" stroke="#000" stroke-width="5.6" />
<line x1="1688.5" y1="1275" x2="1688.5" y2="1302.5" stroke="#000" stroke-width="5.6" />
<line x1="1759" y1="1275" x2="1759" y2="1302.5" stroke="#000" stroke-width="5.6" />
<line x1="1618" y1="1184.5" x2="1618" y2="1202" stroke="#000" stroke-width="2.6" />
<line x1="1607" y1="1184.5" x2="1629" y2="1184.5" stroke="#000" stroke-width="2.6" />
<line x1="1688.5" y1="1152.5" x2="1688.5" y2="1220" stroke="#2c7c4c" stroke-width="2.6" />
<line x1="1677.5" y1="1152.5" x2="1699.5" y2="1152.5" stroke="#2c7c4c" stroke-width="2.6" />
<line x1="1677.5" y1="1220" x2="1699.5" y2="1220" stroke="#2c7c4c" stroke-width="2.6" />
<line x1="1759" y1="1075" x2="1759" y2="1148" stroke="#ff1d10" stroke-width="2.6" />
<line x1="1748" y1="1075" x2="1770" y2="1075" stroke="#ff1d10" stroke-width="2.6" />
<line x1="1748" y1="1148" x2="1770" y2="1148" stroke="#ff1d10" stroke-width="2.6" />
<circle cx="1618" cy="1172" r="6.3" fill="#000" />
<circle cx="1600" cy="1202.5" r="6.3" fill="#000" />
<circle cx="1618" cy="1206" r="6.3" fill="#000" />
<circle cx="1636" cy="1209" r="6.3" fill="#000" />
<circle cx="1600" cy="1220" r="6.3" fill="#000" />
<rect x="1670.5" y="1146.5" width="11" height="11" fill="#2c7c4c" />
<rect x="1694.5" y="1147.5" width="11" height="11" fill="#2c7c4c" />
<rect x="1683" y="1193.5" width="11" height="11" fill="#2c7c4c" />
<rect x="1670.5" y="1212.5" width="11" height="11" fill="#2c7c4c" />
<rect x="1694.5" y="1212.5" width="11" height="11" fill="#2c7c4c" />
<circle cx="1759" cy="1049" r="6.3" fill="#ff1d10" />
<circle cx="1771" cy="1111" r="6.3" fill="#ff1d10" />
<circle cx="1748" cy="1127.5" r="6.3" fill="#ff1d10" />
<circle cx="1770.5" cy="1131" r="6.3" fill="#ff1d10" />
<circle cx="1748" cy="1142.5" r="6.3" fill="#ff1d10" />
<text x="0" y="0" transform="translate(1629.5 1338) rotate(-45)" font-size="36" font-weight="bold" text-anchor="end" fill="#000" >Dextrose</text>
<text x="0" y="0" transform="translate(1700 1338) rotate(-45)" font-size="36" font-weight="bold" text-anchor="end" fill="#000" >IL-12</text>
<text x="0" y="0" transform="translate(1770.5 1338) rotate(-45)" font-size="36" font-weight="bold" text-anchor="end" fill="#000" >Mal-LbL</text>
<text x="0" y="0" transform="translate(1472.5 1123.25) rotate(-90)" font-size="40" font-weight="bold" text-anchor="middle" ><tspan dy="0">%PD1</tspan><tspan dy="-18" font-size="30.4">+</tspan><tspan dy="18">TIM3</tspan><tspan dy="-18" font-size="30.4">+</tspan><tspan dy="18"> CD4 T cells</tspan></text>
<text x="1365" y="887.5" font-size="48" font-weight="bold" text-anchor="start" fill="#000" >i</text>
<text x="1688.75" y="895.5" font-size="24.3" font-weight="normal" text-anchor="middle" fill="#000" >P = 0.0014</text>
<path d="M1617.5 1138 V901 H1759 V936" fill="none" stroke="#000" stroke-width="2.6"/>
<text x="1724" y="975" font-size="24.3" font-weight="normal" text-anchor="middle" fill="#000" >P = 0.0048</text>
<path d="M1688.5 1117 V981 H1759 V1014" fill="none" stroke="#000" stroke-width="2.6"/>
<rect x="207.5" y="1667" width="46.5" height="190" fill="#808080" />
<rect x="278" y="1619.5" width="47" height="237.5" fill="#45a96d" />
<rect x="349" y="1633" width="47" height="224" fill="#ff1d10" />
<rect x="356.5" y="1640.5" width="32" height="216.5" fill="#fa4044" />
<line x1="185" y1="1569.2" x2="185" y2="1859.8" stroke="#000" stroke-width="5.6" />
<line x1="161" y1="1857" x2="422.5" y2="1857" stroke="#000" stroke-width="5.6" />
<line x1="161" y1="1572" x2="185" y2="1572" stroke="#000" stroke-width="5.6" />
<text x="152.5" y="1586.25" font-size="37" font-weight="bold" text-anchor="end" fill="#000" letter-spacing="-1.5">100</text>
<line x1="161" y1="1714" x2="185" y2="1714" stroke="#000" stroke-width="5.6" />
<text x="152.5" y="1728.25" font-size="37" font-weight="bold" text-anchor="end" fill="#000" letter-spacing="-1.5">50</text>
<line x1="161" y1="1857" x2="185" y2="1857" stroke="#000" stroke-width="5.6" />
<text x="152.5" y="1871.25" font-size="37" font-weight="bold" text-anchor="end" fill="#000" letter-spacing="-1.5">0</text>
<line x1="231" y1="1857" x2="231" y2="1881" stroke="#000" stroke-width="5.6" />
<line x1="302.5" y1="1857" x2="302.5" y2="1881" stroke="#000" stroke-width="5.6" />
<line x1="374" y1="1857" x2="374" y2="1881" stroke="#000" stroke-width="5.6" />
<line x1="231" y1="1610" x2="231" y2="1723" stroke="#000" stroke-width="2.6" />
<line x1="220" y1="1610" x2="242" y2="1610" stroke="#000" stroke-width="2.6" />
<line x1="220" y1="1723" x2="242" y2="1723" stroke="#000" stroke-width="2.6" />
<line x1="302.5" y1="1572.5" x2="302.5" y2="1664" stroke="#2c7c4c" stroke-width="2.6" />
<line x1="291.5" y1="1572.5" x2="313.5" y2="1572.5" stroke="#2c7c4c" stroke-width="2.6" />
<line x1="291.5" y1="1664" x2="313.5" y2="1664" stroke="#2c7c4c" stroke-width="2.6" />
<line x1="374" y1="1606" x2="374" y2="1659" stroke="#ff1d10" stroke-width="2.6" />
<line x1="363" y1="1606" x2="385" y2="1606" stroke="#ff1d10" stroke-width="2.6" />
<line x1="363" y1="1659" x2="385" y2="1659" stroke="#ff1d10" stroke-width="2.6" />
<circle cx="231" cy="1572.5" r="6.3" fill="#000" />
<circle cx="231" cy="1658" r="6.3" fill="#000" />
<circle cx="219.5" cy="1692.5" r="6.3" fill="#000" />
<circle cx="242.5" cy="1695" r="6.3" fill="#000" />
<circle cx="231" cy="1715" r="6.3" fill="#000" />
<rect x="284.5" y="1567" width="11" height="11" fill="#2c7c4c" />
<rect x="307.5" y="1567" width="11" height="11" fill="#2c7c4c" />
<rect x="297" y="1627" width="11" height="11" fill="#2c7c4c" />
<rect x="297" y="1647" width="11" height="11" fill="#2c7c4c" />
<rect x="297" y="1662.5" width="11" height="11" fill="#2c7c4c" />
<circle cx="374" cy="1590" r="6.3" fill="#ff1d10" />
<circle cx="360" cy="1631" r="6.3" fill="#ff1d10" />
<circle cx="385" cy="1631" r="6.3" fill="#ff1d10" />
<circle cx="361" cy="1654" r="6.3" fill="#ff1d10" />
<circle cx="385" cy="1652.5" r="6.3" fill="#ff1d10" />
<text x="0" y="0" transform="translate(242.5 1916.5) rotate(-45)" font-size="36" font-weight="bold" text-anchor="end" fill="#000" >Dextrose</text>
<text x="0" y="0" transform="translate(314 1916.5) rotate(-45)" font-size="36" font-weight="bold" text-anchor="end" fill="#000" >IL-12</text>
<text x="0" y="0" transform="translate(385.5 1916.5) rotate(-45)" font-size="36" font-weight="bold" text-anchor="end" fill="#000" >Mal-LbL</text>
<text x="0" y="0" transform="translate(66.5 1696.5) rotate(-90)" font-size="39.4" font-weight="bold" text-anchor="middle" ><tspan dy="0">%PD1</tspan><tspan dy="-17.73" font-size="29.94">+</tspan><tspan dy="17.73">TIM3</tspan><tspan dy="-17.73" font-size="29.94">-</tspan><tspan dy="17.73"> CD8 T cells</tspan></text>
<text x="-0.5" y="1511.5" font-size="48" font-weight="bold" text-anchor="start" fill="#000" >j</text>
<rect x="640" y="1824" width="44" height="10" fill="#808080" />
<rect x="706" y="1799" width="43.5" height="35" fill="#45a96d" />
<rect x="772" y="1742" width="43" height="92" fill="#ff1d10" />
<rect x="779.5" y="1749.5" width="28" height="84.5" fill="#fa4044" />
<line x1="617.5" y1="1647.2" x2="617.5" y2="1883.8" stroke="#000" stroke-width="5.6" />
<line x1="594" y1="1881" x2="841" y2="1881" stroke="#000" stroke-width="5.6" />
<line x1="594" y1="1834" x2="838" y2="1834" stroke="#000" stroke-width="5.6" />
<line x1="594" y1="1650" x2="617.5" y2="1650" stroke="#000" stroke-width="5.6" />
<text x="586" y="1664.25" font-size="37" font-weight="bold" text-anchor="end" fill="#000" letter-spacing="-1.5">40</text>
<line x1="594" y1="1696" x2="617.5" y2="1696" stroke="#000" stroke-width="5.6" />
<text x="586" y="1710.25" font-size="37" font-weight="bold" text-anchor="end" fill="#000" letter-spacing="-1.5">30</text>
<line x1="594" y1="1742.5" x2="617.5" y2="1742.5" stroke="#000" stroke-width="5.6" />
<text x="586" y="1756.75" font-size="37" font-weight="bold" text-anchor="end" fill="#000" letter-spacing="-1.5">20</text>
<line x1="594" y1="1789" x2="617.5" y2="1789" stroke="#000" stroke-width="5.6" />
<text x="586" y="1803.25" font-size="37" font-weight="bold" text-anchor="end" fill="#000" letter-spacing="-1.5">10</text>
<line x1="594" y1="1834" x2="617.5" y2="1834" stroke="#000" stroke-width="5.6" />
<text x="586" y="1848.25" font-size="37" font-weight="bold" text-anchor="end" fill="#000" letter-spacing="-1.5">0</text>
<line x1="594" y1="1881" x2="617.5" y2="1881" stroke="#000" stroke-width="5.6" />
<text x="586" y="1895.25" font-size="37" font-weight="bold" text-anchor="end" fill="#000" letter-spacing="-1.5">-10</text>
<line x1="661" y1="1881" x2="661" y2="1905" stroke="#000" stroke-width="5.6" />
<line x1="727.5" y1="1881" x2="727.5" y2="1905" stroke="#000" stroke-width="5.6" />
<line x1="794" y1="1881" x2="794" y2="1905" stroke="#000" stroke-width="5.6" />
<line x1="661" y1="1809" x2="661" y2="1824" stroke="#000" stroke-width="2.6" />
<line x1="650" y1="1809" x2="672" y2="1809" stroke="#000" stroke-width="2.6" />
<line x1="727.5" y1="1759" x2="727.5" y2="1835" stroke="#2c7c4c" stroke-width="2.6" />
<line x1="716.5" y1="1759" x2="738.5" y2="1759" stroke="#2c7c4c" stroke-width="2.6" />
<line x1="716.5" y1="1835" x2="738.5" y2="1835" stroke="#2c7c4c" stroke-width="2.6" />
<line x1="794" y1="1707.5" x2="794" y2="1777" stroke="#ff1d10" stroke-width="2.6" />
<line x1="783" y1="1707.5" x2="805" y2="1707.5" stroke="#ff1d10" stroke-width="2.6" />
<line x1="783" y1="1777" x2="805" y2="1777" stroke="#ff1d10" stroke-width="2.6" />
<circle cx="652.5" cy="1806" r="6.3" fill="#000" />
<circle cx="670" cy="1809" r="6.3" fill="#000" />
<circle cx="645" cy="1835" r="6.3" fill="#000" />
<circle cx="661" cy="1835" r="6.3" fill="#000" />
<circle cx="677.5" cy="1835" r="6.3" fill="#000" />
<rect x="705.5" y="1752.5" width="11" height="11" fill="#2c7c4c" />
<rect x="738.5" y="1753.5" width="11" height="11" fill="#2c7c4c" />
<rect x="722" y="1803.5" width="11" height="11" fill="#2c7c4c" />
<rect x="705.5" y="1829.5" width="11" height="11" fill="#2c7c4c" />
<rect x="738.5" y="1829.5" width="11" height="11" fill="#2c7c4c" />
<circle cx="794" cy="1696" r="6.3" fill="#ff1d10" />
<circle cx="794" cy="1722.5" r="6.3" fill="#ff1d10" />
<circle cx="777.5" cy="1742.5" r="6.3" fill="#ff1d10" />
<circle cx="806" cy="1757.5" r="6.3" fill="#ff1d10" />
<circle cx="794" cy="1786" r="6.3" fill="#ff1d10" />
<text x="0" y="0" transform="translate(672.5 1940.5) rotate(-45)" font-size="36" font-weight="bold" text-anchor="end" fill="#000" >Dextrose</text>
<text x="0" y="0" transform="translate(739 1940.5) rotate(-45)" font-size="36" font-weight="bold" text-anchor="end" fill="#000" >IL-12</text>
<text x="0" y="0" transform="translate(805.5 1940.5) rotate(-45)" font-size="36" font-weight="bold" text-anchor="end" fill="#000" >Mal-LbL</text>
<text x="0" y="0" transform="translate(507 1758.25) rotate(-90)" font-size="40" font-weight="bold" text-anchor="middle" ><tspan dy="0">%PD1</tspan><tspan dy="-18" font-size="30.4">+</tspan><tspan dy="18">TIM3</tspan><tspan dy="-18" font-size="30.4">+</tspan><tspan dy="18"> CD8 T cells</tspan></text>
<text x="438.5" y="1506.5" font-size="48" font-weight="bold" text-anchor="start" fill="#000" >k</text>
<text x="727" y="1542.5" font-size="24.3" font-weight="normal" text-anchor="middle" fill="#000" >P = 0.0032</text>
<path d="M661 1773 V1549 H794 V1583" fill="none" stroke="#000" stroke-width="2.6"/>
<text x="759.75" y="1621" font-size="24.3" font-weight="normal" text-anchor="middle" fill="#000" >P = 0.0317</text>
<path d="M727.5 1723 V1628 H794 V1662" fill="none" stroke="#000" stroke-width="2.6"/>
<rect x="1044.5" y="1817" width="45" height="7" fill="#808080" />
<rect x="1113" y="1771" width="46" height="53" fill="#45a96d" />
<rect x="1182" y="1728" width="46" height="96" fill="#ff1d10" />
<rect x="1189.5" y="1735.5" width="31" height="88.5" fill="#fa4044" />
<line x1="1021" y1="1594.7" x2="1021" y2="1883.8" stroke="#000" stroke-width="5.6" />
<line x1="997.5" y1="1881" x2="1254.5" y2="1881" stroke="#000" stroke-width="5.6" />
<line x1="997.5" y1="1824" x2="1252" y2="1824" stroke="#000" stroke-width="5.6" />
<line x1="997.5" y1="1597.5" x2="1021" y2="1597.5" stroke="#000" stroke-width="5.6" />
<text x="989.5" y="1611.75" font-size="37" font-weight="bold" text-anchor="end" fill="#000" letter-spacing="-1.5">40</text>
<line x1="997.5" y1="1654.5" x2="1021" y2="1654.5" stroke="#000" stroke-width="5.6" />
<text x="989.5" y="1668.75" font-size="37" font-weight="bold" text-anchor="end" fill="#000" letter-spacing="-1.5">30</text>
<line x1="997.5" y1="1710.5" x2="1021" y2="1710.5" stroke="#000" stroke-width="5.6" />
<text x="989.5" y="1724.75" font-size="37" font-weight="bold" text-anchor="end" fill="#000" letter-spacing="-1.5">20</text>
<line x1="997.5" y1="1767" x2="1021" y2="1767" stroke="#000" stroke-width="5.6" />
<text x="989.5" y="1781.25" font-size="37" font-weight="bold" text-anchor="end" fill="#000" letter-spacing="-1.5">10</text>
<line x1="997.5" y1="1824" x2="1021" y2="1824" stroke="#000" stroke-width="5.6" />
<text x="989.5" y="1838.25" font-size="37" font-weight="bold" text-anchor="end" fill="#000" letter-spacing="-1.5">0</text>
<line x1="997.5" y1="1881" x2="1021" y2="1881" stroke="#000" stroke-width="5.6" />
<text x="989.5" y="1895.25" font-size="37" font-weight="bold" text-anchor="end" fill="#000" letter-spacing="-1.5">-10</text>
<line x1="1066" y1="1881" x2="1066" y2="1906" stroke="#000" stroke-width="5.6" />
<line x1="1136" y1="1881" x2="1136" y2="1906" stroke="#000" stroke-width="5.6" />
<line x1="1205" y1="1881" x2="1205" y2="1906" stroke="#000" stroke-width="5.6" />
<line x1="1066" y1="1804" x2="1066" y2="1817" stroke="#000" stroke-width="2.6" />
<line x1="1055" y1="1804" x2="1077" y2="1804" stroke="#000" stroke-width="2.6" />
<line x1="1136" y1="1721" x2="1136" y2="1825" stroke="#2c7c4c" stroke-width="2.6" />
<line x1="1125" y1="1721" x2="1147" y2="1721" stroke="#2c7c4c" stroke-width="2.6" />
<line x1="1125" y1="1825" x2="1147" y2="1825" stroke="#2c7c4c" stroke-width="2.6" />
<line x1="1205" y1="1674.5" x2="1205" y2="1780.5" stroke="#ff1d10" stroke-width="2.6" />
<line x1="1194" y1="1674.5" x2="1216" y2="1674.5" stroke="#ff1d10" stroke-width="2.6" />
<line x1="1194" y1="1780.5" x2="1216" y2="1780.5" stroke="#ff1d10" stroke-width="2.6" />
<circle cx="1067" cy="1794" r="6.3" fill="#000" />
<circle cx="1050" cy="1825.5" r="6.3" fill="#000" />
<circle cx="1061" cy="1820" r="6.3" fill="#000" />
<circle cx="1072.5" cy="1825" r="6.3" fill="#000" />
<circle cx="1084.5" cy="1820" r="6.3" fill="#000" />
<rect x="1113.5" y="1725" width="11" height="11" fill="#2c7c4c" />
<rect x="1147.5" y="1725" width="11" height="11" fill="#2c7c4c" />
<rect x="1130.5" y="1738.5" width="11" height="11" fill="#2c7c4c" />
<rect x="1113.5" y="1819.5" width="11" height="11" fill="#2c7c4c" />
<rect x="1147.5" y="1819.5" width="11" height="11" fill="#2c7c4c" />
<circle cx="1205" cy="1636" r="6.3" fill="#ff1d10" />
<circle cx="1205" cy="1722.5" r="6.3" fill="#ff1d10" />
<circle cx="1191" cy="1745" r="6.3" fill="#ff1d10" />
<circle cx="1220" cy="1757.5" r="6.3" fill="#ff1d10" />
<circle cx="1191" cy="1764" r="6.3" fill="#ff1d10" />
<text x="0" y="0" transform="translate(1077.5 1941.5) rotate(-45)" font-size="36" font-weight="bold" text-anchor="end" fill="#000" >Dextrose</text>
<text x="0" y="0" transform="translate(1147.5 1941.5) rotate(-45)" font-size="36" font-weight="bold" text-anchor="end" fill="#000" >IL-12</text>
<text x="0" y="0" transform="translate(1216.5 1941.5) rotate(-45)" font-size="36" font-weight="bold" text-anchor="end" fill="#000" >Mal-LbL</text>
<text x="0" y="0" transform="translate(911 1720.75) rotate(-90)" font-size="39.4" font-weight="bold" text-anchor="middle" ><tspan dy="0">%CD25</tspan><tspan dy="-17.73" font-size="29.94">+</tspan><tspan dy="17.73"> CD8 T cells</tspan></text>
<text x="862.5" y="1505.5" font-size="48" font-weight="bold" text-anchor="start" fill="#000" >l</text>
<text x="1135.25" y="1561" font-size="24.3" font-weight="normal" text-anchor="middle" fill="#000" >P = 0.0167</text>
<path d="M1066 1761 V1567 H1205 V1601" fill="none" stroke="#000" stroke-width="2.6"/>
<line x1="1509.75" y1="1673.75" x2="1509.75" y2="1687.5" stroke="#ff1d10" stroke-width="2.6" />
<line x1="1501.75" y1="1673.75" x2="1517.75" y2="1673.75" stroke="#ff1d10" stroke-width="2.6" />
<line x1="1501.75" y1="1687.5" x2="1517.75" y2="1687.5" stroke="#ff1d10" stroke-width="2.6" />
<line x1="1542" y1="1695.5" x2="1542" y2="1707" stroke="#ff1d10" stroke-width="2.6" />
<line x1="1534" y1="1695.5" x2="1550" y2="1695.5" stroke="#ff1d10" stroke-width="2.6" />
<line x1="1534" y1="1707" x2="1550" y2="1707" stroke="#ff1d10" stroke-width="2.6" />
<line x1="1574.25" y1="1682" x2="1574.25" y2="1693" stroke="#ff1d10" stroke-width="2.6" />
<line x1="1566.25" y1="1682" x2="1582.25" y2="1682" stroke="#ff1d10" stroke-width="2.6" />
<line x1="1566.25" y1="1693" x2="1582.25" y2="1693" stroke="#ff1d10" stroke-width="2.6" />
<line x1="1606.5" y1="1645.5" x2="1606.5" y2="1659.5" stroke="#ff1d10" stroke-width="2.6" />
<line x1="1598.5" y1="1645.5" x2="1614.5" y2="1645.5" stroke="#ff1d10" stroke-width="2.6" />
<line x1="1598.5" y1="1659.5" x2="1614.5" y2="1659.5" stroke="#ff1d10" stroke-width="2.6" />
<line x1="1638.75" y1="1645" x2="1638.75" y2="1660" stroke="#ff1d10" stroke-width="2.6" />
<line x1="1630.75" y1="1645" x2="1646.75" y2="1645" stroke="#ff1d10" stroke-width="2.6" />
<line x1="1630.75" y1="1660" x2="1646.75" y2="1660" stroke="#ff1d10" stroke-width="2.6" />
<line x1="1671" y1="1635" x2="1671" y2="1650" stroke="#ff1d10" stroke-width="2.6" />
<line x1="1663" y1="1635" x2="1679" y2="1635" stroke="#ff1d10" stroke-width="2.6" />
<line x1="1663" y1="1650" x2="1679" y2="1650" stroke="#ff1d10" stroke-width="2.6" />
<line x1="1703.25" y1="1580" x2="1703.25" y2="1599.5" stroke="#ff1d10" stroke-width="2.6" />
<line x1="1695.25" y1="1580" x2="1711.25" y2="1580" stroke="#ff1d10" stroke-width="2.6" />
<line x1="1695.25" y1="1599.5" x2="1711.25" y2="1599.5" stroke="#ff1d10" stroke-width="2.6" />
<line x1="1735.5" y1="1563.75" x2="1735.5" y2="1590" stroke="#ff1d10" stroke-width="2.6" />
<line x1="1727.5" y1="1563.75" x2="1743.5" y2="1563.75" stroke="#ff1d10" stroke-width="2.6" />
<line x1="1727.5" y1="1590" x2="1743.5" y2="1590" stroke="#ff1d10" stroke-width="2.6" />
<line x1="1767.75" y1="1580" x2="1767.75" y2="1616.25" stroke="#ff1d10" stroke-width="2.6" />
<line x1="1759.75" y1="1580" x2="1775.75" y2="1580" stroke="#ff1d10" stroke-width="2.6" />
<line x1="1759.75" y1="1616.25" x2="1775.75" y2="1616.25" stroke="#ff1d10" stroke-width="2.6" />
<line x1="1800" y1="1548.75" x2="1800" y2="1605" stroke="#ff1d10" stroke-width="2.6" />
<line x1="1792" y1="1548.75" x2="1808" y2="1548.75" stroke="#ff1d10" stroke-width="2.6" />
<line x1="1792" y1="1605" x2="1808" y2="1605" stroke="#ff1d10" stroke-width="2.6" />
<line x1="1832.25" y1="1580" x2="1832.25" y2="1620" stroke="#ff1d10" stroke-width="2.6" />
<line x1="1824.25" y1="1580" x2="1840.25" y2="1580" stroke="#ff1d10" stroke-width="2.6" />
<line x1="1824.25" y1="1620" x2="1840.25" y2="1620" stroke="#ff1d10" stroke-width="2.6" />
<line x1="1864.5" y1="1552.5" x2="1864.5" y2="1626.25" stroke="#ff1d10" stroke-width="2.6" />
<line x1="1856.5" y1="1552.5" x2="1872.5" y2="1552.5" stroke="#ff1d10" stroke-width="2.6" />
<line x1="1856.5" y1="1626.25" x2="1872.5" y2="1626.25" stroke="#ff1d10" stroke-width="2.6" />
<line x1="1896.75" y1="1575" x2="1896.75" y2="1605" stroke="#ff1d10" stroke-width="2.6" />
<line x1="1888.75" y1="1575" x2="1904.75" y2="1575" stroke="#ff1d10" stroke-width="2.6" />
<line x1="1888.75" y1="1605" x2="1904.75" y2="1605" stroke="#ff1d10" stroke-width="2.6" />
<line x1="1509.75" y1="1632.5" x2="1509.75" y2="1727.5" stroke="#ff1d10" stroke-width="2.6" />
<line x1="1501.75" y1="1632.5" x2="1517.75" y2="1632.5" stroke="#ff1d10" stroke-width="2.6" />
<line x1="1501.75" y1="1727.5" x2="1517.75" y2="1727.5" stroke="#ff1d10" stroke-width="2.6" />
<line x1="1542" y1="1677.5" x2="1542" y2="1738.75" stroke="#ff1d10" stroke-width="2.6" />
<line x1="1534" y1="1677.5" x2="1550" y2="1677.5" stroke="#ff1d10" stroke-width="2.6" />
<line x1="1534" y1="1738.75" x2="1550" y2="1738.75" stroke="#ff1d10" stroke-width="2.6" />
<line x1="1574.25" y1="1655" x2="1574.25" y2="1720" stroke="#ff1d10" stroke-width="2.6" />
<line x1="1566.25" y1="1655" x2="1582.25" y2="1655" stroke="#ff1d10" stroke-width="2.6" />
<line x1="1566.25" y1="1720" x2="1582.25" y2="1720" stroke="#ff1d10" stroke-width="2.6" />
<line x1="1606.5" y1="1600.75" x2="1606.5" y2="1642.5" stroke="#ff1d10" stroke-width="2.6" />
<line x1="1598.5" y1="1600.75" x2="1614.5" y2="1600.75" stroke="#ff1d10" stroke-width="2.6" />
<line x1="1598.5" y1="1642.5" x2="1614.5" y2="1642.5" stroke="#ff1d10" stroke-width="2.6" />
<line x1="1638.75" y1="1569.5" x2="1638.75" y2="1690" stroke="#ff1d10" stroke-width="2.6" />
<line x1="1630.75" y1="1569.5" x2="1646.75" y2="1569.5" stroke="#ff1d10" stroke-width="2.6" />
<line x1="1630.75" y1="1690" x2="1646.75" y2="1690" stroke="#ff1d10" stroke-width="2.6" />
<line x1="1671" y1="1584.5" x2="1671" y2="1680" stroke="#ff1d10" stroke-width="2.6" />
<line x1="1663" y1="1584.5" x2="1679" y2="1584.5" stroke="#ff1d10" stroke-width="2.6" />
<line x1="1663" y1="1680" x2="1679" y2="1680" stroke="#ff1d10" stroke-width="2.6" />
<line x1="1703.25" y1="1544.5" x2="1703.25" y2="1590" stroke="#ff1d10" stroke-width="2.6" />
<line x1="1695.25" y1="1544.5" x2="1711.25" y2="1544.5" stroke="#ff1d10" stroke-width="2.6" />
<line x1="1695.25" y1="1590" x2="1711.25" y2="1590" stroke="#ff1d10" stroke-width="2.6" />
<line x1="1735.5" y1="1547" x2="1735.5" y2="1607.5" stroke="#ff1d10" stroke-width="2.6" />
<line x1="1727.5" y1="1547" x2="1743.5" y2="1547" stroke="#ff1d10" stroke-width="2.6" />
<line x1="1727.5" y1="1607.5" x2="1743.5" y2="1607.5" stroke="#ff1d10" stroke-width="2.6" />
<line x1="1767.75" y1="1569.5" x2="1767.75" y2="1627.5" stroke="#ff1d10" stroke-width="2.6" />
<line x1="1759.75" y1="1569.5" x2="1775.75" y2="1569.5" stroke="#ff1d10" stroke-width="2.6" />
<line x1="1759.75" y1="1627.5" x2="1775.75" y2="1627.5" stroke="#ff1d10" stroke-width="2.6" />
<line x1="1800" y1="1541.25" x2="1800" y2="1600" stroke="#ff1d10" stroke-width="2.6" />
<line x1="1792" y1="1541.25" x2="1808" y2="1541.25" stroke="#ff1d10" stroke-width="2.6" />
<line x1="1792" y1="1600" x2="1808" y2="1600" stroke="#ff1d10" stroke-width="2.6" />
<line x1="1832.25" y1="1562.5" x2="1832.25" y2="1643.75" stroke="#ff1d10" stroke-width="2.6" />
<line x1="1824.25" y1="1562.5" x2="1840.25" y2="1562.5" stroke="#ff1d10" stroke-width="2.6" />
<line x1="1824.25" y1="1643.75" x2="1840.25" y2="1643.75" stroke="#ff1d10" stroke-width="2.6" />
<line x1="1864.5" y1="1539.5" x2="1864.5" y2="1625" stroke="#ff1d10" stroke-width="2.6" />
<line x1="1856.5" y1="1539.5" x2="1872.5" y2="1539.5" stroke="#ff1d10" stroke-width="2.6" />
<line x1="1856.5" y1="1625" x2="1872.5" y2="1625" stroke="#ff1d10" stroke-width="2.6" />
<line x1="1896.75" y1="1542.5" x2="1896.75" y2="1635" stroke="#ff1d10" stroke-width="2.6" />
<line x1="1888.75" y1="1542.5" x2="1904.75" y2="1542.5" stroke="#ff1d10" stroke-width="2.6" />
<line x1="1888.75" y1="1635" x2="1904.75" y2="1635" stroke="#ff1d10" stroke-width="2.6" />
<line x1="1445.25" y1="1709.5" x2="1445.25" y2="1726.25" stroke="#45a96d" stroke-width="2.6" />
<line x1="1437.25" y1="1709.5" x2="1453.25" y2="1709.5" stroke="#45a96d" stroke-width="2.6" />
<line x1="1437.25" y1="1726.25" x2="1453.25" y2="1726.25" stroke="#45a96d" stroke-width="2.6" />
<line x1="1477.5" y1="1703.75" x2="1477.5" y2="1720.5" stroke="#45a96d" stroke-width="2.6" />
<line x1="1469.5" y1="1703.75" x2="1485.5" y2="1703.75" stroke="#45a96d" stroke-width="2.6" />
<line x1="1469.5" y1="1720.5" x2="1485.5" y2="1720.5" stroke="#45a96d" stroke-width="2.6" />
<line x1="1509.75" y1="1690" x2="1509.75" y2="1747" stroke="#45a96d" stroke-width="2.6" />
<line x1="1501.75" y1="1690" x2="1517.75" y2="1690" stroke="#45a96d" stroke-width="2.6" />
<line x1="1501.75" y1="1747" x2="1517.75" y2="1747" stroke="#45a96d" stroke-width="2.6" />
<line x1="1542" y1="1677.5" x2="1542" y2="1742.5" stroke="#45a96d" stroke-width="2.6" />
<line x1="1534" y1="1677.5" x2="1550" y2="1677.5" stroke="#45a96d" stroke-width="2.6" />
<line x1="1534" y1="1742.5" x2="1550" y2="1742.5" stroke="#45a96d" stroke-width="2.6" />
<line x1="1574.25" y1="1663.75" x2="1574.25" y2="1693.75" stroke="#45a96d" stroke-width="2.6" />
<line x1="1566.25" y1="1663.75" x2="1582.25" y2="1663.75" stroke="#45a96d" stroke-width="2.6" />
<line x1="1566.25" y1="1693.75" x2="1582.25" y2="1693.75" stroke="#45a96d" stroke-width="2.6" />
<line x1="1606.5" y1="1612.5" x2="1606.5" y2="1643" stroke="#45a96d" stroke-width="2.6" />
<line x1="1598.5" y1="1612.5" x2="1614.5" y2="1612.5" stroke="#45a96d" stroke-width="2.6" />
<line x1="1598.5" y1="1643" x2="1614.5" y2="1643" stroke="#45a96d" stroke-width="2.6" />
<line x1="1638.75" y1="1589.25" x2="1638.75" y2="1620" stroke="#45a96d" stroke-width="2.6" />
<line x1="1630.75" y1="1589.25" x2="1646.75" y2="1589.25" stroke="#45a96d" stroke-width="2.6" />
<line x1="1630.75" y1="1620" x2="1646.75" y2="1620" stroke="#45a96d" stroke-width="2.6" />
<line x1="1671" y1="1621.25" x2="1671" y2="1643.75" stroke="#45a96d" stroke-width="2.6" />
<line x1="1663" y1="1621.25" x2="1679" y2="1621.25" stroke="#45a96d" stroke-width="2.6" />
<line x1="1663" y1="1643.75" x2="1679" y2="1643.75" stroke="#45a96d" stroke-width="2.6" />
<line x1="1703.25" y1="1599.5" x2="1703.25" y2="1630" stroke="#45a96d" stroke-width="2.6" />
<line x1="1695.25" y1="1599.5" x2="1711.25" y2="1599.5" stroke="#45a96d" stroke-width="2.6" />
<line x1="1695.25" y1="1630" x2="1711.25" y2="1630" stroke="#45a96d" stroke-width="2.6" />
<line x1="1735.5" y1="1603.75" x2="1735.5" y2="1630.75" stroke="#45a96d" stroke-width="2.6" />
<line x1="1727.5" y1="1603.75" x2="1743.5" y2="1603.75" stroke="#45a96d" stroke-width="2.6" />
<line x1="1727.5" y1="1630.75" x2="1743.5" y2="1630.75" stroke="#45a96d" stroke-width="2.6" />
<line x1="1767.75" y1="1604.25" x2="1767.75" y2="1653.75" stroke="#45a96d" stroke-width="2.6" />
<line x1="1759.75" y1="1604.25" x2="1775.75" y2="1604.25" stroke="#45a96d" stroke-width="2.6" />
<line x1="1759.75" y1="1653.75" x2="1775.75" y2="1653.75" stroke="#45a96d" stroke-width="2.6" />
<line x1="1800" y1="1562" x2="1800" y2="1610" stroke="#45a96d" stroke-width="2.6" />
<line x1="1792" y1="1562" x2="1808" y2="1562" stroke="#45a96d" stroke-width="2.6" />
<line x1="1792" y1="1610" x2="1808" y2="1610" stroke="#45a96d" stroke-width="2.6" />
<line x1="1832.25" y1="1597.5" x2="1832.25" y2="1638" stroke="#45a96d" stroke-width="2.6" />
<line x1="1824.25" y1="1597.5" x2="1840.25" y2="1597.5" stroke="#45a96d" stroke-width="2.6" />
<line x1="1824.25" y1="1638" x2="1840.25" y2="1638" stroke="#45a96d" stroke-width="2.6" />
<line x1="1864.5" y1="1583.75" x2="1864.5" y2="1630" stroke="#45a96d" stroke-width="2.6" />
<line x1="1856.5" y1="1583.75" x2="1872.5" y2="1583.75" stroke="#45a96d" stroke-width="2.6" />
<line x1="1856.5" y1="1630" x2="1872.5" y2="1630" stroke="#45a96d" stroke-width="2.6" />
<line x1="1896.75" y1="1580" x2="1896.75" y2="1632" stroke="#45a96d" stroke-width="2.6" />
<line x1="1888.75" y1="1580" x2="1904.75" y2="1580" stroke="#45a96d" stroke-width="2.6" />
<line x1="1888.75" y1="1632" x2="1904.75" y2="1632" stroke="#45a96d" stroke-width="2.6" />
<line x1="1542" y1="1624.5" x2="1542" y2="1695.5" stroke="#7f7f7f" stroke-width="2.6" />
<line x1="1534" y1="1624.5" x2="1550" y2="1624.5" stroke="#7f7f7f" stroke-width="2.6" />
<line x1="1534" y1="1695.5" x2="1550" y2="1695.5" stroke="#7f7f7f" stroke-width="2.6" />
<line x1="1574.25" y1="1695" x2="1574.25" y2="1727.5" stroke="#7f7f7f" stroke-width="2.6" />
<line x1="1566.25" y1="1695" x2="1582.25" y2="1695" stroke="#7f7f7f" stroke-width="2.6" />
<line x1="1566.25" y1="1727.5" x2="1582.25" y2="1727.5" stroke="#7f7f7f" stroke-width="2.6" />
<line x1="1606.5" y1="1667.5" x2="1606.5" y2="1703.25" stroke="#7f7f7f" stroke-width="2.6" />
<line x1="1598.5" y1="1667.5" x2="1614.5" y2="1667.5" stroke="#7f7f7f" stroke-width="2.6" />
<line x1="1598.5" y1="1703.25" x2="1614.5" y2="1703.25" stroke="#7f7f7f" stroke-width="2.6" />
<line x1="1638.75" y1="1628.75" x2="1638.75" y2="1658.75" stroke="#7f7f7f" stroke-width="2.6" />
<line x1="1630.75" y1="1628.75" x2="1646.75" y2="1628.75" stroke="#7f7f7f" stroke-width="2.6" />
<line x1="1630.75" y1="1658.75" x2="1646.75" y2="1658.75" stroke="#7f7f7f" stroke-width="2.6" />
<line x1="1671" y1="1617" x2="1671" y2="1687" stroke="#7f7f7f" stroke-width="2.6" />
<line x1="1663" y1="1617" x2="1679" y2="1617" stroke="#7f7f7f" stroke-width="2.6" />
<line x1="1663" y1="1687" x2="1679" y2="1687" stroke="#7f7f7f" stroke-width="2.6" />
<line x1="1703.25" y1="1605" x2="1703.25" y2="1673" stroke="#7f7f7f" stroke-width="2.6" />
<line x1="1695.25" y1="1605" x2="1711.25" y2="1605" stroke="#7f7f7f" stroke-width="2.6" />
<line x1="1695.25" y1="1673" x2="1711.25" y2="1673" stroke="#7f7f7f" stroke-width="2.6" />
<line x1="1735.5" y1="1602.5" x2="1735.5" y2="1630" stroke="#7f7f7f" stroke-width="2.6" />
<line x1="1727.5" y1="1602.5" x2="1743.5" y2="1602.5" stroke="#7f7f7f" stroke-width="2.6" />
<line x1="1727.5" y1="1630" x2="1743.5" y2="1630" stroke="#7f7f7f" stroke-width="2.6" />
<line x1="1767.75" y1="1622.5" x2="1767.75" y2="1646.25" stroke="#7f7f7f" stroke-width="2.6" />
<line x1="1759.75" y1="1622.5" x2="1775.75" y2="1622.5" stroke="#7f7f7f" stroke-width="2.6" />
<line x1="1759.75" y1="1646.25" x2="1775.75" y2="1646.25" stroke="#7f7f7f" stroke-width="2.6" />
<line x1="1800" y1="1570" x2="1800" y2="1608" stroke="#7f7f7f" stroke-width="2.6" />
<line x1="1792" y1="1570" x2="1808" y2="1570" stroke="#7f7f7f" stroke-width="2.6" />
<line x1="1792" y1="1608" x2="1808" y2="1608" stroke="#7f7f7f" stroke-width="2.6" />
<line x1="1832.25" y1="1565" x2="1832.25" y2="1607.5" stroke="#7f7f7f" stroke-width="2.6" />
<line x1="1824.25" y1="1565" x2="1840.25" y2="1565" stroke="#7f7f7f" stroke-width="2.6" />
<line x1="1824.25" y1="1607.5" x2="1840.25" y2="1607.5" stroke="#7f7f7f" stroke-width="2.6" />
<polyline points="1477.5,1702.5 1509.75,1680 1542,1701.25 1574.25,1687.5 1606.5,1652.5 1638.75,1652.5 1671,1642.5 1703.25,1589.5 1735.5,1575 1767.75,1597.5 1800,1578.75 1832.25,1597.5 1864.5,1580 1896.75,1588.75" fill="none" stroke="#ff1d10" stroke-width="3" stroke-dasharray="3 5" stroke-linejoin="round"/>
<polyline points="1445.25,1726.25 1477.5,1705 1509.75,1708.75 1542,1680 1574.25,1667.5 1606.5,1622.5 1638.75,1603.75 1671,1608.75 1703.25,1565 1735.5,1577.5 1767.75,1598.75 1800,1570 1832.25,1603 1864.5,1582 1896.75,1605" fill="none" stroke="#ff1d10" stroke-width="3"  stroke-linejoin="round"/>
<polyline points="1445.25,1726.25 1477.5,1711.25 1509.75,1718.75 1542,1710 1574.25,1678.75 1606.5,1627.5 1638.75,1606.25 1671,1632.5 1703.25,1616.25 1735.5,1617 1767.75,1627.5 1800,1590 1832.25,1617 1864.5,1606.25 1896.75,1607" fill="none" stroke="#45a96d" stroke-width="3"  stroke-linejoin="round"/>
<polyline points="1445.25,1727.5 1477.5,1702.5 1509.75,1701.25 1542,1660 1574.25,1711.25 1606.5,1686.25 1638.75,1645 1671,1652.5 1703.25,1640 1735.5,1616.25 1767.75,1633.75 1800,1590 1832.25,1587.5" fill="none" stroke="#7f7f7f" stroke-width="3" stroke-dasharray="7 6" stroke-linejoin="round"/>
<path d="M1469.5 1702.5 L1477.5 1694.5 L1485.5 1702.5 L1477.5 1710.5 Z" fill="#ff1d10"/>
<path d="M1501.75 1680 L1509.75 1672 L1517.75 1680 L1509.75 1688 Z" fill="#ff1d10"/>
<path d="M1534 1701.25 L1542 1693.25 L1550 1701.25 L1542 1709.25 Z" fill="#ff1d10"/>
<path d="M1566.25 1687.5 L1574.25 1679.5 L1582.25 1687.5 L1574.25 1695.5 Z" fill="#ff1d10"/>
<path d="M1598.5 1652.5 L1606.5 1644.5 L1614.5 1652.5 L1606.5 1660.5 Z" fill="#ff1d10"/>
<path d="M1630.75 1652.5 L1638.75 1644.5 L1646.75 1652.5 L1638.75 1660.5 Z" fill="#ff1d10"/>
<path d="M1663 1642.5 L1671 1634.5 L1679 1642.5 L1671 1650.5 Z" fill="#ff1d10"/>
<path d="M1695.25 1589.5 L1703.25 1581.5 L1711.25 1589.5 L1703.25 1597.5 Z" fill="#ff1d10"/>
<path d="M1727.5 1575 L1735.5 1567 L1743.5 1575 L1735.5 1583 Z" fill="#ff1d10"/>
<path d="M1759.75 1597.5 L1767.75 1589.5 L1775.75 1597.5 L1767.75 1605.5 Z" fill="#ff1d10"/>
<path d="M1792 1578.75 L1800 1570.75 L1808 1578.75 L1800 1586.75 Z" fill="#ff1d10"/>
<path d="M1824.25 1597.5 L1832.25 1589.5 L1840.25 1597.5 L1832.25 1605.5 Z" fill="#ff1d10"/>
<path d="M1856.5 1580 L1864.5 1572 L1872.5 1580 L1864.5 1588 Z" fill="#ff1d10"/>
<path d="M1888.75 1588.75 L1896.75 1580.75 L1904.75 1588.75 L1896.75 1596.75 Z" fill="#ff1d10"/>
<path d="M1437 1719.41 L1453.5 1719.41 L1445.25 1735.09 Z" fill="#ff1d10"/>
<path d="M1469.25 1698.16 L1485.75 1698.16 L1477.5 1713.84 Z" fill="#ff1d10"/>
<path d="M1501.5 1701.91 L1518 1701.91 L1509.75 1717.59 Z" fill="#ff1d10"/>
<path d="M1533.75 1673.16 L1550.25 1673.16 L1542 1688.84 Z" fill="#ff1d10"/>
<path d="M1566 1660.66 L1582.5 1660.66 L1574.25 1676.34 Z" fill="#ff1d10"/>
<path d="M1598.25 1615.66 L1614.75 1615.66 L1606.5 1631.34 Z" fill="#ff1d10"/>
<path d="M1630.5 1596.91 L1647 1596.91 L1638.75 1612.59 Z" fill="#ff1d10"/>
<path d="M1662.75 1601.91 L1679.25 1601.91 L1671 1617.59 Z" fill="#ff1d10"/>
<path d="M1695 1558.16 L1711.5 1558.16 L1703.25 1573.84 Z" fill="#ff1d10"/>
<path d="M1727.25 1570.66 L1743.75 1570.66 L1735.5 1586.34 Z" fill="#ff1d10"/>
<path d="M1759.5 1591.91 L1776 1591.91 L1767.75 1607.59 Z" fill="#ff1d10"/>
<path d="M1791.75 1563.16 L1808.25 1563.16 L1800 1578.84 Z" fill="#ff1d10"/>
<path d="M1824 1596.16 L1840.5 1596.16 L1832.25 1611.84 Z" fill="#ff1d10"/>
<path d="M1856.25 1575.16 L1872.75 1575.16 L1864.5 1590.84 Z" fill="#ff1d10"/>
<path d="M1888.5 1598.16 L1905 1598.16 L1896.75 1613.84 Z" fill="#ff1d10"/>
<path d="M1437 1733.09 L1453.5 1733.09 L1445.25 1717.41 Z" fill="#45a96d"/>
<path d="M1469.25 1718.09 L1485.75 1718.09 L1477.5 1702.41 Z" fill="#45a96d"/>
<path d="M1501.5 1725.59 L1518 1725.59 L1509.75 1709.91 Z" fill="#45a96d"/>
<path d="M1533.75 1716.84 L1550.25 1716.84 L1542 1701.16 Z" fill="#45a96d"/>
<path d="M1566 1685.59 L1582.5 1685.59 L1574.25 1669.91 Z" fill="#45a96d"/>
<path d="M1598.25 1634.34 L1614.75 1634.34 L1606.5 1618.66 Z" fill="#45a96d"/>
<path d="M1630.5 1613.09 L1647 1613.09 L1638.75 1597.41 Z" fill="#45a96d"/>
<path d="M1662.75 1639.34 L1679.25 1639.34 L1671 1623.66 Z" fill="#45a96d"/>
<path d="M1695 1623.09 L1711.5 1623.09 L1703.25 1607.41 Z" fill="#45a96d"/>
<path d="M1727.25 1623.84 L1743.75 1623.84 L1735.5 1608.16 Z" fill="#45a96d"/>
<path d="M1759.5 1634.34 L1776 1634.34 L1767.75 1618.66 Z" fill="#45a96d"/>
<path d="M1791.75 1596.84 L1808.25 1596.84 L1800 1581.16 Z" fill="#45a96d"/>
<path d="M1824 1623.84 L1840.5 1623.84 L1832.25 1608.16 Z" fill="#45a96d"/>
<path d="M1856.25 1613.09 L1872.75 1613.09 L1864.5 1597.41 Z" fill="#45a96d"/>
<path d="M1888.5 1613.84 L1905 1613.84 L1896.75 1598.16 Z" fill="#45a96d"/>
<rect x="1437.25" y="1719.5" width="16" height="16" fill="#7f7f7f" />
<rect x="1469.5" y="1694.5" width="16" height="16" fill="#7f7f7f" />
<rect x="1501.75" y="1693.25" width="16" height="16" fill="#7f7f7f" />
<rect x="1534" y="1652" width="16" height="16" fill="#7f7f7f" />
<rect x="1566.25" y="1703.25" width="16" height="16" fill="#7f7f7f" />
<rect x="1598.5" y="1678.25" width="16" height="16" fill="#7f7f7f" />
<rect x="1630.75" y="1637" width="16" height="16" fill="#7f7f7f" />
<rect x="1663" y="1644.5" width="16" height="16" fill="#7f7f7f" />
<rect x="1695.25" y="1632" width="16" height="16" fill="#7f7f7f" />
<rect x="1727.5" y="1608.25" width="16" height="16" fill="#7f7f7f" />
<rect x="1759.75" y="1625.75" width="16" height="16" fill="#7f7f7f" />
<rect x="1792" y="1582" width="16" height="16" fill="#7f7f7f" />
<rect x="1824.25" y="1579.5" width="16" height="16" fill="#7f7f7f" />
<line x1="1445.75" y1="1502.7" x2="1445.75" y2="1927.8" stroke="#000" stroke-width="5.6" />
<line x1="1423" y1="1925" x2="1963" y2="1925" stroke="#000" stroke-width="5.6" />
<line x1="1423" y1="1505.5" x2="1445.75" y2="1505.5" stroke="#000" stroke-width="5.6" />
<text x="1416" y="1517.45" font-size="30.6" font-weight="bold" text-anchor="end" fill="#000" >1.2</text>
<line x1="1423" y1="1610" x2="1445.75" y2="1610" stroke="#000" stroke-width="5.6" />
<text x="1416" y="1621.95" font-size="30.6" font-weight="bold" text-anchor="end" fill="#000" >1.1</text>
<line x1="1423" y1="1715" x2="1445.75" y2="1715" stroke="#000" stroke-width="5.6" />
<text x="1416" y="1726.95" font-size="30.6" font-weight="bold" text-anchor="end" fill="#000" >1.0</text>
<line x1="1423" y1="1820" x2="1445.75" y2="1820" stroke="#000" stroke-width="5.6" />
<text x="1416" y="1831.95" font-size="30.6" font-weight="bold" text-anchor="end" fill="#000" >0.9</text>
<line x1="1423" y1="1924.5" x2="1445.75" y2="1924.5" stroke="#000" stroke-width="5.6" />
<text x="1416" y="1936.45" font-size="30.6" font-weight="bold" text-anchor="end" fill="#000" >0.8</text>
<line x1="1477.5" y1="1925" x2="1477.5" y2="1946.5" stroke="#000" stroke-width="5.6" />
<text x="1477.5" y="1984" font-size="30.6" font-weight="bold" text-anchor="middle" fill="#000" >0</text>
<line x1="1638.75" y1="1925" x2="1638.75" y2="1946.5" stroke="#000" stroke-width="5.6" />
<text x="1638.75" y="1984" font-size="30.6" font-weight="bold" text-anchor="middle" fill="#000" >5</text>
<line x1="1800" y1="1925" x2="1800" y2="1946.5" stroke="#000" stroke-width="5.6" />
<text x="1800" y="1984" font-size="30.6" font-weight="bold" text-anchor="middle" fill="#000" >10</text>
<line x1="1961.25" y1="1925" x2="1961.25" y2="1946.5" stroke="#000" stroke-width="5.6" />
<text x="1961.25" y="1984" font-size="30.6" font-weight="bold" text-anchor="middle" fill="#000" >15</text>
<text x="1703" y="2039" font-size="36.3" font-weight="bold" text-anchor="middle" fill="#000" >Time from first dose (day)</text>
<text x="0" y="0" transform="translate(1349 1716) rotate(-90)" font-size="36" font-weight="bold" text-anchor="middle" fill="#000" >Relative weight</text>
<text x="1281.5" y="1507.5" font-size="48" font-weight="bold" text-anchor="start" fill="#000" >m</text>
<path d="M1462 1649.5 L1494 1649.5 L1478 1688.5 Z" fill="#000"/>
<path d="M1494 1589.5 L1526 1589.5 L1510 1628.5 Z" fill="#0000ff"/>
<path d="M1687.25 1503 L1719.25 1503 L1703.25 1542 Z" fill="#000"/>
<path d="M1720 1504 L1752 1504 L1736 1543 Z" fill="#0000ff"/>
<line x1="1626" y1="1762.5" x2="1682.5" y2="1762.5" stroke="#7f7f7f" stroke-width="3" stroke-dasharray="7 6"/>
<rect x="1646" y="1754.5" width="16" height="16" fill="#7f7f7f" />
<text x="1714" y="1775.7" font-size="36" font-weight="normal" text-anchor="start" fill="#000" >dextrose</text>
<line x1="1626" y1="1804.5" x2="1682.5" y2="1804.5" stroke="#45a96d" stroke-width="3" />
<path d="M1645.75 1811.34 L1662.25 1811.34 L1654 1795.66 Z" fill="#45a96d"/>
<text x="1714" y="1817.7" font-size="36" font-weight="normal" text-anchor="start" fill="#000" >IL-12</text>
<line x1="1626" y1="1847" x2="1682.5" y2="1847" stroke="#ff1d10" stroke-width="3" />
<path d="M1645.75 1840.16 L1662.25 1840.16 L1654 1855.84 Z" fill="#ff1d10"/>
<text x="1714" y="1860.2" font-size="36" font-weight="normal" text-anchor="start" fill="#000" >Mal-LbL</text>
<line x1="1626" y1="1890" x2="1682.5" y2="1890" stroke="#ff1d10" stroke-width="3" stroke-dasharray="3 5"/>
<path d="M1646 1890 L1654 1882 L1662 1890 L1654 1898 Z" fill="#ff1d10"/>
<text x="1714" y="1903.2" font-size="36" font-weight="normal" text-anchor="start" fill="#000" >Mal-LbL+ICI</text>
<line x1="304.5" y1="2085" x2="332" y2="2170" stroke="#000" stroke-width="3" />
<line x1="345" y1="2211" x2="375.2" y2="2305" stroke="#000" stroke-width="3" />
<line x1="304.5" y1="2085" x2="323" y2="2170" stroke="#a51a14" stroke-width="3" />
<line x1="329" y1="2211" x2="376.2" y2="2427.5" stroke="#a51a14" stroke-width="3" />
<line x1="304.5" y1="2085" x2="322" y2="2170" stroke="#1c1cff" stroke-width="3" />
<line x1="327.5" y1="2211" x2="375.2" y2="2470" stroke="#1c1cff" stroke-width="3" />
<line x1="304.5" y1="2085" x2="321.5" y2="2170" stroke="#ff1f18" stroke-width="3" />
<line x1="327" y1="2211" x2="375.2" y2="2475" stroke="#ff1f18" stroke-width="3" />
<line x1="409.01" y1="2154.5" x2="427.01" y2="2154.5" stroke="#222" stroke-width="2.2" />
<line x1="466.09" y1="2147.5" x2="484.09" y2="2147.5" stroke="#222" stroke-width="2.2" />
<line x1="508.9" y1="2159" x2="526.9" y2="2159" stroke="#222" stroke-width="2.2" />
<polyline points="303.85,2085 375.2,2161 418.01,2166 475.09,2157.5 517.9,2168" fill="none" stroke="#111" stroke-width="2.8" stroke-dasharray="0.1 8.5" stroke-linejoin="round" stroke-linecap="round"/>
<circle cx="303.85" cy="2085" r="8" fill="none" stroke="#e2e2e2" stroke-width="5"/>
<circle cx="303.85" cy="2085" r="1.4" fill="#111" />
<circle cx="375.2" cy="2161" r="8" fill="none" stroke="#e2e2e2" stroke-width="5"/>
<circle cx="375.2" cy="2161" r="1.4" fill="#111" />
<circle cx="418.01" cy="2166" r="8" fill="none" stroke="#e2e2e2" stroke-width="5"/>
<circle cx="418.01" cy="2166" r="1.4" fill="#111" />
<circle cx="475.09" cy="2157.5" r="8" fill="none" stroke="#e2e2e2" stroke-width="5"/>
<circle cx="475.09" cy="2157.5" r="1.4" fill="#111" />
<circle cx="517.9" cy="2168" r="8" fill="none" stroke="#e2e2e2" stroke-width="5"/>
<circle cx="517.9" cy="2168" r="1.4" fill="#111" />
<line x1="375.2" y1="2305" x2="375.2" y2="2272" stroke="#000" stroke-width="3" />
<line x1="366.2" y1="2272" x2="384.2" y2="2272" stroke="#000" stroke-width="3" />
<line x1="389.47" y1="2417" x2="389.47" y2="2359" stroke="#000" stroke-width="3" />
<line x1="380.47" y1="2359" x2="398.47" y2="2359" stroke="#000" stroke-width="3" />
<line x1="475.09" y1="2370" x2="475.09" y2="2314.5" stroke="#000" stroke-width="3" />
<line x1="466.09" y1="2314.5" x2="484.09" y2="2314.5" stroke="#000" stroke-width="3" />
<line x1="574.98" y1="2304.5" x2="574.98" y2="2246" stroke="#000" stroke-width="3" />
<line x1="565.98" y1="2246" x2="583.98" y2="2246" stroke="#000" stroke-width="3" />
<polyline points="375.2,2305 389.47,2417 475.09,2370 574.98,2304.5" fill="none" stroke="#000" stroke-width="3"  stroke-linejoin="round"/>
<circle cx="375.2" cy="2305" r="8.8" fill="#000" />
<circle cx="389.47" cy="2417" r="8.8" fill="#000" />
<circle cx="475.09" cy="2370" r="8.8" fill="#000" />
<circle cx="574.98" cy="2304.5" r="8.8" fill="#000" />
<line x1="375.2" y1="2427.5" x2="375.2" y2="2406" stroke="#a51a14" stroke-width="3" />
<line x1="366.2" y1="2406" x2="384.2" y2="2406" stroke="#a51a14" stroke-width="3" />
<line x1="389.47" y1="2510" x2="389.47" y2="2490" stroke="#a51a14" stroke-width="3" />
<line x1="380.47" y1="2490" x2="398.47" y2="2490" stroke="#a51a14" stroke-width="3" />
<line x1="674.87" y1="2472" x2="674.87" y2="2432.5" stroke="#a51a14" stroke-width="3" />
<line x1="665.87" y1="2432.5" x2="683.87" y2="2432.5" stroke="#a51a14" stroke-width="3" />
<polyline points="375.2,2427.5 389.47,2510 475.09,2547.5 574.98,2546 674.87,2472" fill="none" stroke="#a51a14" stroke-width="3"  stroke-linejoin="round"/>
<rect x="367.95" y="2419.25" width="16.5" height="16.5" fill="#a51a14" />
<rect x="382.22" y="2501.75" width="16.5" height="16.5" fill="#a51a14" />
<rect x="466.84" y="2539.25" width="16.5" height="16.5" fill="#a51a14" />
<rect x="566.73" y="2537.75" width="16.5" height="16.5" fill="#a51a14" />
<rect x="666.62" y="2463.75" width="16.5" height="16.5" fill="#a51a14" />
<line x1="375.2" y1="2470" x2="375.2" y2="2437.5" stroke="#1c1cff" stroke-width="3" />
<line x1="366.2" y1="2437.5" x2="384.2" y2="2437.5" stroke="#1c1cff" stroke-width="3" />
<line x1="389.47" y1="2511" x2="389.47" y2="2484" stroke="#1c1cff" stroke-width="3" />
<line x1="380.47" y1="2484" x2="398.47" y2="2484" stroke="#1c1cff" stroke-width="3" />
<line x1="475.09" y1="2547.5" x2="475.09" y2="2526" stroke="#1c1cff" stroke-width="3" />
<line x1="466.09" y1="2526" x2="484.09" y2="2526" stroke="#1c1cff" stroke-width="3" />
<line x1="574.98" y1="2551" x2="574.98" y2="2532.5" stroke="#1c1cff" stroke-width="3" />
<line x1="565.98" y1="2532.5" x2="583.98" y2="2532.5" stroke="#1c1cff" stroke-width="3" />
<line x1="674.87" y1="2552" x2="674.87" y2="2518" stroke="#1c1cff" stroke-width="3" />
<line x1="665.87" y1="2518" x2="683.87" y2="2518" stroke="#1c1cff" stroke-width="3" />
<polyline points="375.2,2470 389.47,2511 475.09,2547.5 574.98,2551 674.87,2552" fill="none" stroke="#1c1cff" stroke-width="3"  stroke-linejoin="round"/>
<circle cx="375.2" cy="2470" r="8.2" fill="#1c1cff" />
<circle cx="389.47" cy="2511" r="8.2" fill="#1c1cff" />
<circle cx="475.09" cy="2547.5" r="8.2" fill="#1c1cff" />
<circle cx="574.98" cy="2551" r="8.2" fill="#1c1cff" />
<circle cx="674.87" cy="2552" r="8.2" fill="#1c1cff" />
<line x1="375.2" y1="2475" x2="375.2" y2="2458" stroke="#ff1f18" stroke-width="3" />
<line x1="366.2" y1="2458" x2="384.2" y2="2458" stroke="#ff1f18" stroke-width="3" />
<line x1="475.09" y1="2535" x2="475.09" y2="2515.5" stroke="#ff1f18" stroke-width="3" />
<line x1="466.09" y1="2515.5" x2="484.09" y2="2515.5" stroke="#ff1f18" stroke-width="3" />
<line x1="674.87" y1="2537" x2="674.87" y2="2512.5" stroke="#ff1f18" stroke-width="3" />
<line x1="665.87" y1="2512.5" x2="683.87" y2="2512.5" stroke="#ff1f18" stroke-width="3" />
<polyline points="375.2,2475 389.47,2527 475.09,2535 574.98,2562 674.87,2537" fill="none" stroke="#ff1f18" stroke-width="3"  stroke-linejoin="round"/>
<circle cx="375.2" cy="2475" r="8.2" fill="#ff1f18" />
<circle cx="389.47" cy="2527" r="8.2" fill="#ff1f18" />
<circle cx="475.09" cy="2535" r="8.2" fill="#ff1f18" />
<circle cx="574.98" cy="2562" r="8.2" fill="#ff1f18" />
<circle cx="674.87" cy="2537" r="8.2" fill="#ff1f18" />
<rect x="296" y="2085" width="10" height="10" fill="#a51a14" />
<circle cx="304.5" cy="2085" r="8" fill="#ff1f18" stroke="#e2e2e2" stroke-width="5"/>
<circle cx="304.5" cy="2085" r="1.6" fill="#300" />
<line x1="233" y1="2075.2" x2="233" y2="2172.8" stroke="#000" stroke-width="5.6" />
<line x1="220" y1="2160.76" x2="233" y2="2160.76" stroke="#000" stroke-width="4.6" />
<line x1="220" y1="2155.35" x2="233" y2="2155.35" stroke="#000" stroke-width="4.6" />
<line x1="220" y1="2151.52" x2="233" y2="2151.52" stroke="#000" stroke-width="4.6" />
<line x1="220" y1="2148.54" x2="233" y2="2148.54" stroke="#000" stroke-width="4.6" />
<line x1="220" y1="2146.11" x2="233" y2="2146.11" stroke="#000" stroke-width="4.6" />
<line x1="220" y1="2144.06" x2="233" y2="2144.06" stroke="#000" stroke-width="4.6" />
<line x1="220" y1="2142.28" x2="233" y2="2142.28" stroke="#000" stroke-width="4.6" />
<line x1="220" y1="2140.7" x2="233" y2="2140.7" stroke="#000" stroke-width="4.6" />
<line x1="220" y1="2130.06" x2="233" y2="2130.06" stroke="#000" stroke-width="4.6" />
<line x1="220" y1="2124.65" x2="233" y2="2124.65" stroke="#000" stroke-width="4.6" />
<line x1="220" y1="2120.82" x2="233" y2="2120.82" stroke="#000" stroke-width="4.6" />
<line x1="220" y1="2117.84" x2="233" y2="2117.84" stroke="#000" stroke-width="4.6" />
<line x1="220" y1="2115.41" x2="233" y2="2115.41" stroke="#000" stroke-width="4.6" />
<line x1="220" y1="2113.36" x2="233" y2="2113.36" stroke="#000" stroke-width="4.6" />
<line x1="220" y1="2111.58" x2="233" y2="2111.58" stroke="#000" stroke-width="4.6" />
<line x1="220" y1="2110" x2="233" y2="2110" stroke="#000" stroke-width="4.6" />
<line x1="220" y1="2099.36" x2="233" y2="2099.36" stroke="#000" stroke-width="4.6" />
<line x1="220" y1="2093.95" x2="233" y2="2093.95" stroke="#000" stroke-width="4.6" />
<line x1="220" y1="2090.12" x2="233" y2="2090.12" stroke="#000" stroke-width="4.6" />
<line x1="220" y1="2087.14" x2="233" y2="2087.14" stroke="#000" stroke-width="4.6" />
<line x1="220" y1="2084.71" x2="233" y2="2084.71" stroke="#000" stroke-width="4.6" />
<line x1="220" y1="2082.66" x2="233" y2="2082.66" stroke="#000" stroke-width="4.6" />
<line x1="220" y1="2080.88" x2="233" y2="2080.88" stroke="#000" stroke-width="4.6" />
<line x1="220" y1="2079.3" x2="233" y2="2079.3" stroke="#000" stroke-width="4.6" />
<line x1="209.5" y1="2078" x2="233" y2="2078" stroke="#000" stroke-width="5.6" />
<line x1="209.5" y1="2139.5" x2="233" y2="2139.5" stroke="#000" stroke-width="5.6" />
<line x1="220" y1="2169.5" x2="247.5" y2="2169.5" stroke="#000" stroke-width="5.6" />
<line x1="233" y1="2210.7" x2="233" y2="2604" stroke="#000" stroke-width="5.6" />
<line x1="220" y1="2213.5" x2="247.5" y2="2213.5" stroke="#000" stroke-width="5.6" />
<line x1="220" y1="2525.93" x2="233" y2="2525.93" stroke="#000" stroke-width="4.6" />
<line x1="220" y1="2493.6" x2="233" y2="2493.6" stroke="#000" stroke-width="4.6" />
<line x1="220" y1="2470.66" x2="233" y2="2470.66" stroke="#000" stroke-width="4.6" />
<line x1="220" y1="2452.87" x2="233" y2="2452.87" stroke="#000" stroke-width="4.6" />
<line x1="220" y1="2438.33" x2="233" y2="2438.33" stroke="#000" stroke-width="4.6" />
<line x1="220" y1="2426.04" x2="233" y2="2426.04" stroke="#000" stroke-width="4.6" />
<line x1="220" y1="2415.39" x2="233" y2="2415.39" stroke="#000" stroke-width="4.6" />
<line x1="220" y1="2406" x2="233" y2="2406" stroke="#000" stroke-width="4.6" />
<line x1="220" y1="2342.33" x2="233" y2="2342.33" stroke="#000" stroke-width="4.6" />
<line x1="220" y1="2310" x2="233" y2="2310" stroke="#000" stroke-width="4.6" />
<line x1="220" y1="2287.06" x2="233" y2="2287.06" stroke="#000" stroke-width="4.6" />
<line x1="220" y1="2269.27" x2="233" y2="2269.27" stroke="#000" stroke-width="4.6" />
<line x1="220" y1="2254.73" x2="233" y2="2254.73" stroke="#000" stroke-width="4.6" />
<line x1="220" y1="2242.44" x2="233" y2="2242.44" stroke="#000" stroke-width="4.6" />
<line x1="220" y1="2231.79" x2="233" y2="2231.79" stroke="#000" stroke-width="4.6" />
<line x1="220" y1="2222.4" x2="233" y2="2222.4" stroke="#000" stroke-width="4.6" />
<line x1="209.5" y1="2398" x2="233" y2="2398" stroke="#000" stroke-width="5.6" />
<line x1="209.5" y1="2581" x2="806.5" y2="2581" stroke="#000" stroke-width="5.6" />
<line x1="375.2" y1="2581" x2="375.2" y2="2604" stroke="#000" stroke-width="5.6" />
<line x1="517.9" y1="2581" x2="517.9" y2="2604" stroke="#000" stroke-width="5.6" />
<line x1="660.6" y1="2581" x2="660.6" y2="2604" stroke="#000" stroke-width="5.6" />
<line x1="803.3" y1="2581" x2="803.3" y2="2604" stroke="#000" stroke-width="5.6" />
<text x="232.5" y="2647.5" font-size="32.5" font-weight="bold" text-anchor="middle" fill="#000" >0</text>
<text x="375.2" y="2647.5" font-size="32.5" font-weight="bold" text-anchor="middle" fill="#000" >10</text>
<text x="517.9" y="2647.5" font-size="32.5" font-weight="bold" text-anchor="middle" fill="#000" >20</text>
<text x="660.6" y="2647.5" font-size="32.5" font-weight="bold" text-anchor="middle" fill="#000" >30</text>
<text x="803.3" y="2647.5" font-size="32.5" font-weight="bold" text-anchor="middle" fill="#000" >40</text>
<text x="200" y="2091" font-size="32.5" font-weight="bold" text-anchor="end" letter-spacing="1.6">1×10<tspan dx="1" dy="-8" font-size="23">10</tspan></text>
<text x="200" y="2152.5" font-size="32.5" font-weight="bold" text-anchor="end" letter-spacing="1.6">1×10<tspan dx="1" dy="-8" font-size="23">8</tspan></text>
<text x="200" y="2225" font-size="32.5" font-weight="bold" text-anchor="end" letter-spacing="1.6">1×10<tspan dx="1" dy="-8" font-size="23">7</tspan></text>
<text x="200" y="2409.5" font-size="32.5" font-weight="bold" text-anchor="end" letter-spacing="1.6">1×10<tspan dx="1" dy="-8" font-size="23">6</tspan></text>
<text x="200" y="2592.5" font-size="32.5" font-weight="bold" text-anchor="end" letter-spacing="1.6">1×10<tspan dx="1" dy="-8" font-size="23">5</tspan></text>
<text x="519.5" y="2707.5" font-size="40" font-weight="bold" text-anchor="middle" fill="#000" >Time (days)</text>
<text x="0" y="0" transform="translate(54 2332) rotate(-90)" font-size="40" font-weight="bold" text-anchor="middle" fill="#000" >Total Flux (p/s)</text>
<text x="30.5" y="2135.5" font-size="48" font-weight="bold" text-anchor="start" fill="#000" >n</text>
<line x1="599" y1="2149.5" x2="661" y2="2149.5" stroke="#111" stroke-width="2.8" stroke-dasharray="0.1 8.5" stroke-linecap="round"/>
<circle cx="630" cy="2149.5" r="8" fill="#fff" stroke="#e2e2e2" stroke-width="5"/>
<circle cx="630" cy="2149.5" r="1.4" fill="#111" />
<text x="696.5" y="2162.3" font-size="36" font-weight="normal" text-anchor="start" fill="#000" >Dextrose</text>
<line x1="599" y1="2199.5" x2="661" y2="2199.5" stroke="#000" stroke-width="3" />
<circle cx="630" cy="2199.5" r="8.5" fill="#000" />
<text x="696.5" y="2212.3" font-size="36" font-weight="normal" text-anchor="start" fill="#000" >CPI</text>
<line x1="599" y1="2250" x2="661" y2="2250" stroke="#a51a14" stroke-width="3" />
<rect x="621.75" y="2241.75" width="16.5" height="16.5" fill="#a51a14" />
<text x="696.5" y="2262.8" font-size="36" font-weight="normal" text-anchor="start" fill="#000" >IL-12+ICI</text>
<line x1="599" y1="2300.5" x2="661" y2="2300.5" stroke="#1c1cff" stroke-width="3" />
<circle cx="630" cy="2300.5" r="8.5" fill="#1c1cff" />
<text x="696.5" y="2313.3" font-size="36" font-weight="normal" text-anchor="start" fill="#000" >Ni-LbL+ICI</text>
<line x1="599" y1="2345.5" x2="661" y2="2345.5" stroke="#ff1f18" stroke-width="3" />
<circle cx="630" cy="2345.5" r="8.5" fill="#ff1f18" />
<text x="696.5" y="2358.3" font-size="36" font-weight="normal" text-anchor="start" fill="#000" >Mal-LbL+ICI</text>
<rect x="1084" y="2498" width="306.5" height="78" fill="#a6a6a6" />
<line x1="1120.62" y1="2349.5" x2="1120.62" y2="2377.5" stroke="#8a8a8a" stroke-width="2.6" />
<line x1="1115.12" y1="2349.5" x2="1126.12" y2="2349.5" stroke="#8a8a8a" stroke-width="2.6" />
<line x1="1115.12" y1="2377.5" x2="1126.12" y2="2377.5" stroke="#8a8a8a" stroke-width="2.6" />
<line x1="1198.38" y1="2295" x2="1198.38" y2="2304.5" stroke="#8a8a8a" stroke-width="2.6" />
<line x1="1192.88" y1="2304.5" x2="1203.88" y2="2304.5" stroke="#8a8a8a" stroke-width="2.6" />
<polyline points="1120.62,2359.5 1198.38,2295 1315,2279" fill="none" stroke="#8a8a8a" stroke-width="3"  stroke-linejoin="round"/>
<rect x="1112.88" y="2351.75" width="15.5" height="15.5" rx="4" fill="#8a8a8a"/>
<rect x="1118.42" y="2357.3" width="4.4" height="4.4" fill="#e6e6e6" />
<rect x="1190.62" y="2287.25" width="15.5" height="15.5" rx="4" fill="#8a8a8a"/>
<rect x="1196.17" y="2292.8" width="4.4" height="4.4" fill="#e6e6e6" />
<rect x="1307.25" y="2271.25" width="15.5" height="15.5" rx="4" fill="#8a8a8a"/>
<rect x="1312.8" y="2276.8" width="4.4" height="4.4" fill="#e6e6e6" />
<polyline points="1120.62,2437.5 1198.38,2492 1315,2516" fill="none" stroke="#3a8c2a" stroke-width="3"  stroke-linejoin="round"/>
<rect x="1115.12" y="2432" width="11" height="11" fill="#3a8c2a" />
<rect x="1192.88" y="2486.5" width="11" height="11" fill="#3a8c2a" />
<rect x="1309.5" y="2510.5" width="11" height="11" fill="#3a8c2a" />
<line x1="1120.62" y1="2450" x2="1120.62" y2="2464" stroke="#ff1f18" stroke-width="2.6" />
<line x1="1115.12" y1="2450" x2="1126.12" y2="2450" stroke="#ff1f18" stroke-width="2.6" />
<line x1="1115.12" y1="2464" x2="1126.12" y2="2464" stroke="#ff1f18" stroke-width="2.6" />
<line x1="1198.38" y1="2492" x2="1198.38" y2="2522.5" stroke="#ff1f18" stroke-width="2.6" />
<line x1="1192.88" y1="2492" x2="1203.88" y2="2492" stroke="#ff1f18" stroke-width="2.6" />
<line x1="1192.88" y1="2522.5" x2="1203.88" y2="2522.5" stroke="#ff1f18" stroke-width="2.6" />
<line x1="1315" y1="2519" x2="1315" y2="2541" stroke="#ff1f18" stroke-width="2.6" />
<line x1="1309.5" y1="2519" x2="1320.5" y2="2519" stroke="#ff1f18" stroke-width="2.6" />
<line x1="1309.5" y1="2541" x2="1320.5" y2="2541" stroke="#ff1f18" stroke-width="2.6" />
<polyline points="1120.62,2457 1198.38,2504 1315,2529" fill="none" stroke="#ff1f18" stroke-width="3"  stroke-linejoin="round"/>
<circle cx="1120.62" cy="2457" r="5.8" fill="#ff1f18" />
<circle cx="1198.38" cy="2504" r="5.8" fill="#ff1f18" />
<circle cx="1315" cy="2529" r="5.8" fill="#ff1f18" />
<polyline points="1120.62,2458 1198.38,2502.5 1315,2548" fill="none" stroke="#1414ff" stroke-width="3"  stroke-linejoin="round"/>
<circle cx="1120.62" cy="2458" r="5.8" fill="#1414ff" />
<circle cx="1198.38" cy="2502.5" r="5.8" fill="#1414ff" />
<circle cx="1315" cy="2548" r="5.8" fill="#1414ff" />
<line x1="1081.75" y1="2241.3" x2="1081.75" y2="2601" stroke="#000" stroke-width="6" />
<line x1="1060" y1="2578" x2="1395.5" y2="2578" stroke="#000" stroke-width="6" />
<line x1="1060" y1="2244.3" x2="1081.75" y2="2244.3" stroke="#000" stroke-width="6" />
<text x="1052" y="2256.74" font-size="34" font-weight="bold" text-anchor="end">10<tspan dx="1.5" dy="-11" font-size="22.44">10</tspan></text>
<line x1="1060" y1="2300" x2="1081.75" y2="2300" stroke="#000" stroke-width="6" />
<text x="1052" y="2312.44" font-size="34" font-weight="bold" text-anchor="end">10<tspan dx="1.5" dy="-11" font-size="22.44">9</tspan></text>
<line x1="1060" y1="2356" x2="1081.75" y2="2356" stroke="#000" stroke-width="6" />
<text x="1052" y="2368.44" font-size="34" font-weight="bold" text-anchor="end">10<tspan dx="1.5" dy="-11" font-size="22.44">8</tspan></text>
<line x1="1060" y1="2411.5" x2="1081.75" y2="2411.5" stroke="#000" stroke-width="6" />
<text x="1052" y="2423.94" font-size="34" font-weight="bold" text-anchor="end">10<tspan dx="1.5" dy="-11" font-size="22.44">7</tspan></text>
<line x1="1060" y1="2467" x2="1081.75" y2="2467" stroke="#000" stroke-width="6" />
<text x="1052" y="2479.44" font-size="34" font-weight="bold" text-anchor="end">10<tspan dx="1.5" dy="-11" font-size="22.44">6</tspan></text>
<line x1="1060" y1="2522.5" x2="1081.75" y2="2522.5" stroke="#000" stroke-width="6" />
<text x="1052" y="2534.94" font-size="34" font-weight="bold" text-anchor="end">10<tspan dx="1.5" dy="-11" font-size="22.44">5</tspan></text>
<line x1="1060" y1="2578" x2="1081.75" y2="2578" stroke="#000" stroke-width="6" />
<text x="1052" y="2590.44" font-size="34" font-weight="bold" text-anchor="end">10<tspan dx="1.5" dy="-11" font-size="22.44">4</tspan></text>
<line x1="1159.5" y1="2578" x2="1159.5" y2="2601" stroke="#000" stroke-width="6" />
<line x1="1237.25" y1="2578" x2="1237.25" y2="2601" stroke="#000" stroke-width="6" />
<line x1="1315" y1="2578" x2="1315" y2="2601" stroke="#000" stroke-width="6" />
<line x1="1392.75" y1="2578" x2="1392.75" y2="2601" stroke="#000" stroke-width="6" />
<text x="1081.75" y="2638.5" font-size="30.5" font-weight="bold" text-anchor="middle" fill="#000" >0</text>
<text x="1159.5" y="2638.5" font-size="30.5" font-weight="bold" text-anchor="middle" fill="#000" >2</text>
<text x="1237.25" y="2638.5" font-size="30.5" font-weight="bold" text-anchor="middle" fill="#000" >4</text>
<text x="1315" y="2638.5" font-size="30.5" font-weight="bold" text-anchor="middle" fill="#000" >6</text>
<text x="1392.75" y="2638.5" font-size="30.5" font-weight="bold" text-anchor="middle" fill="#000" >8</text>
<text x="1238.5" y="2691" font-size="36.4" font-weight="bold" text-anchor="middle" fill="#000" >Days post rechallenge</text>
<text x="0" y="0" transform="translate(956 2413.5) rotate(-90)" font-size="36.2" font-weight="bold" text-anchor="middle" fill="#000" >Total flux (p/s)</text>
<text x="948.5" y="2116.5" font-size="48" font-weight="bold" text-anchor="start" fill="#000" >o</text>
<line x1="1061" y1="2122" x2="1118" y2="2122" stroke="#8a8a8a" stroke-width="2.8" />
<rect x="1081.75" y="2114.25" width="15.5" height="15.5" rx="4" fill="#8a8a8a"/>
<rect x="1087.3" y="2119.8" width="4.4" height="4.4" fill="#e6e6e6" />
<text x="1150.5" y="2132.26" font-size="28.9" font-weight="normal" text-anchor="start" fill="#000" >naive (n=3)</text>
<line x1="1061" y1="2157" x2="1118" y2="2157" stroke="#3a8c2a" stroke-width="2.8" />
<rect x="1084" y="2151.5" width="11" height="11" fill="#3a8c2a" />
<text x="1150.5" y="2167.26" font-size="28.9" font-weight="normal" text-anchor="start" fill="#000" >IL-12+ICI (n=1)</text>
<line x1="1061" y1="2191" x2="1118" y2="2191" stroke="#1414ff" stroke-width="2.8" />
<circle cx="1089.5" cy="2191" r="5.8" fill="#1414ff" />
<text x="1150.5" y="2201.26" font-size="28.9" font-weight="normal" text-anchor="start" fill="#000" >Ni-LbL+ICI (n=1)</text>
<line x1="1061" y1="2222.5" x2="1118" y2="2222.5" stroke="#ff1f18" stroke-width="2.8" />
<circle cx="1089.5" cy="2222.5" r="5.8" fill="#ff1f18" />
<text x="1150.5" y="2232.76" font-size="28.9" font-weight="normal" text-anchor="start" fill="#000" >Mal-LbL+ICI (n=5)</text>
<rect x="1647.5" y="2540.5" width="261.5" height="41" fill="#a6a6a6" />
<line x1="1677.56" y1="2329" x2="1677.56" y2="2352.5" stroke="#8a8a8a" stroke-width="2.6" />
<line x1="1672.06" y1="2329" x2="1683.06" y2="2329" stroke="#8a8a8a" stroke-width="2.6" />
<line x1="1672.06" y1="2352.5" x2="1683.06" y2="2352.5" stroke="#8a8a8a" stroke-width="2.6" />
<line x1="1742.68" y1="2252" x2="1742.68" y2="2294" stroke="#8a8a8a" stroke-width="2.6" />
<line x1="1737.18" y1="2252" x2="1748.18" y2="2252" stroke="#8a8a8a" stroke-width="2.6" />
<line x1="1737.18" y1="2294" x2="1748.18" y2="2294" stroke="#8a8a8a" stroke-width="2.6" />
<line x1="1840.36" y1="2277" x2="1840.36" y2="2344" stroke="#8a8a8a" stroke-width="2.6" />
<line x1="1834.86" y1="2277" x2="1845.86" y2="2277" stroke="#8a8a8a" stroke-width="2.6" />
<line x1="1834.86" y1="2344" x2="1845.86" y2="2344" stroke="#8a8a8a" stroke-width="2.6" />
<polyline points="1677.56,2337 1742.68,2266 1840.36,2294" fill="none" stroke="#8a8a8a" stroke-width="3"  stroke-linejoin="round"/>
<rect x="1669.81" y="2329.25" width="15.5" height="15.5" rx="4" fill="#8a8a8a"/>
<rect x="1675.36" y="2334.8" width="4.4" height="4.4" fill="#e6e6e6" />
<rect x="1734.93" y="2258.25" width="15.5" height="15.5" rx="4" fill="#8a8a8a"/>
<rect x="1740.48" y="2263.8" width="4.4" height="4.4" fill="#e6e6e6" />
<rect x="1832.61" y="2286.25" width="15.5" height="15.5" rx="4" fill="#8a8a8a"/>
<rect x="1838.16" y="2291.8" width="4.4" height="4.4" fill="#e6e6e6" />
<polyline points="1677.56,2544.5 1742.68,2549.5 1840.36,2546" fill="none" stroke="#3a8c2a" stroke-width="3"  stroke-linejoin="round"/>
<rect x="1672.06" y="2539" width="11" height="11" fill="#3a8c2a" />
<rect x="1737.18" y="2544" width="11" height="11" fill="#3a8c2a" />
<rect x="1834.86" y="2540.5" width="11" height="11" fill="#3a8c2a" />
<line x1="1677.56" y1="2421" x2="1677.56" y2="2486" stroke="#ff1f18" stroke-width="2.6" />
<line x1="1672.06" y1="2421" x2="1683.06" y2="2421" stroke="#ff1f18" stroke-width="2.6" />
<line x1="1672.06" y1="2486" x2="1683.06" y2="2486" stroke="#ff1f18" stroke-width="2.6" />
<line x1="1742.68" y1="2512.5" x2="1742.68" y2="2580" stroke="#ff1f18" stroke-width="2.6" />
<line x1="1737.18" y1="2512.5" x2="1748.18" y2="2512.5" stroke="#ff1f18" stroke-width="2.6" />
<line x1="1737.18" y1="2580" x2="1748.18" y2="2580" stroke="#ff1f18" stroke-width="2.6" />
<polyline points="1677.56,2439 1742.68,2529.5 1840.36,2552.5" fill="none" stroke="#ff1f18" stroke-width="3"  stroke-linejoin="round"/>
<circle cx="1677.56" cy="2439" r="5.8" fill="#ff1f18" />
<circle cx="1742.68" cy="2529.5" r="5.8" fill="#ff1f18" />
<circle cx="1840.36" cy="2552.5" r="5.8" fill="#ff1f18" />
<line x1="1677.56" y1="2453" x2="1677.56" y2="2486" stroke="#1414ff" stroke-width="2.6" />
<line x1="1672.06" y1="2453" x2="1683.06" y2="2453" stroke="#1414ff" stroke-width="2.6" />
<line x1="1672.06" y1="2486" x2="1683.06" y2="2486" stroke="#1414ff" stroke-width="2.6" />
<line x1="1742.68" y1="2545" x2="1742.68" y2="2561" stroke="#1414ff" stroke-width="2.6" />
<line x1="1737.18" y1="2545" x2="1748.18" y2="2545" stroke="#1414ff" stroke-width="2.6" />
<line x1="1737.18" y1="2561" x2="1748.18" y2="2561" stroke="#1414ff" stroke-width="2.6" />
<line x1="1840.36" y1="2546" x2="1840.36" y2="2559.5" stroke="#1414ff" stroke-width="2.6" />
<line x1="1834.86" y1="2546" x2="1845.86" y2="2546" stroke="#1414ff" stroke-width="2.6" />
<line x1="1834.86" y1="2559.5" x2="1845.86" y2="2559.5" stroke="#1414ff" stroke-width="2.6" />
<polyline points="1677.56,2477.5 1742.68,2552 1840.36,2553" fill="none" stroke="#1414ff" stroke-width="3"  stroke-linejoin="round"/>
<circle cx="1677.56" cy="2477.5" r="5.8" fill="#1414ff" />
<circle cx="1742.68" cy="2552" r="5.8" fill="#1414ff" />
<circle cx="1840.36" cy="2553" r="5.8" fill="#1414ff" />
<line x1="1645" y1="2235.5" x2="1645" y2="2607.5" stroke="#000" stroke-width="6" />
<line x1="1622" y1="2584" x2="1908.5" y2="2584" stroke="#000" stroke-width="6" />
<line x1="1622" y1="2238.5" x2="1645" y2="2238.5" stroke="#000" stroke-width="6" />
<text x="1615" y="2250.94" font-size="34" font-weight="bold" text-anchor="end">10<tspan dx="1.5" dy="-11" font-size="22.44">10</tspan></text>
<line x1="1622" y1="2307.5" x2="1645" y2="2307.5" stroke="#000" stroke-width="6" />
<text x="1615" y="2319.94" font-size="34" font-weight="bold" text-anchor="end">10<tspan dx="1.5" dy="-11" font-size="22.44">9</tspan></text>
<line x1="1622" y1="2376.5" x2="1645" y2="2376.5" stroke="#000" stroke-width="6" />
<text x="1615" y="2388.94" font-size="34" font-weight="bold" text-anchor="end">10<tspan dx="1.5" dy="-11" font-size="22.44">8</tspan></text>
<line x1="1622" y1="2445.5" x2="1645" y2="2445.5" stroke="#000" stroke-width="6" />
<text x="1615" y="2457.94" font-size="34" font-weight="bold" text-anchor="end">10<tspan dx="1.5" dy="-11" font-size="22.44">7</tspan></text>
<line x1="1622" y1="2514.5" x2="1645" y2="2514.5" stroke="#000" stroke-width="6" />
<text x="1615" y="2526.94" font-size="34" font-weight="bold" text-anchor="end">10<tspan dx="1.5" dy="-11" font-size="22.44">6</tspan></text>
<line x1="1622" y1="2584" x2="1645" y2="2584" stroke="#000" stroke-width="6" />
<text x="1615" y="2596.44" font-size="34" font-weight="bold" text-anchor="end">10<tspan dx="1.5" dy="-11" font-size="22.44">5</tspan></text>
<line x1="1710.12" y1="2584" x2="1710.12" y2="2607.5" stroke="#000" stroke-width="6" />
<line x1="1775.24" y1="2584" x2="1775.24" y2="2607.5" stroke="#000" stroke-width="6" />
<line x1="1840.36" y1="2584" x2="1840.36" y2="2607.5" stroke="#000" stroke-width="6" />
<line x1="1905.48" y1="2584" x2="1905.48" y2="2607.5" stroke="#000" stroke-width="6" />
<text x="1645" y="2646" font-size="30.5" font-weight="bold" text-anchor="middle" fill="#000" >0</text>
<text x="1710.12" y="2646" font-size="30.5" font-weight="bold" text-anchor="middle" fill="#000" >2</text>
<text x="1775.24" y="2646" font-size="30.5" font-weight="bold" text-anchor="middle" fill="#000" >4</text>
<text x="1840.36" y="2646" font-size="30.5" font-weight="bold" text-anchor="middle" fill="#000" >6</text>
<text x="1905.48" y="2646" font-size="30.5" font-weight="bold" text-anchor="middle" fill="#000" >8</text>
<text x="1774.7" y="2700" font-size="37.5" font-weight="bold" text-anchor="middle" fill="#000" >Days post rechallenge</text>
<text x="0" y="0" transform="translate(1515 2413) rotate(-90)" font-size="37" font-weight="bold" text-anchor="middle" fill="#000" >Total flux (p/s)</text>
<text x="1432.5" y="2137.5" font-size="48" font-weight="bold" text-anchor="start" fill="#000" >p</text>
<line x1="1554" y1="2098.5" x2="1611" y2="2098.5" stroke="#8a8a8a" stroke-width="2.8" />
<rect x="1574.75" y="2090.75" width="15.5" height="15.5" rx="4" fill="#8a8a8a"/>
<rect x="1580.3" y="2096.3" width="4.4" height="4.4" fill="#e6e6e6" />
<text x="1645" y="2109.01" font-size="29.6" font-weight="normal" text-anchor="start" fill="#000" >naive (n=3)</text>
<line x1="1554" y1="2134" x2="1611" y2="2134" stroke="#3a8c2a" stroke-width="2.8" />
<rect x="1577" y="2128.5" width="11" height="11" fill="#3a8c2a" />
<text x="1645" y="2144.51" font-size="29.6" font-weight="normal" text-anchor="start" fill="#000" >IL-12+ICI (n=1)</text>
<line x1="1554" y1="2169.5" x2="1611" y2="2169.5" stroke="#1414ff" stroke-width="2.8" />
<circle cx="1582.5" cy="2169.5" r="5.8" fill="#1414ff" />
<text x="1645" y="2180.01" font-size="29.6" font-weight="normal" text-anchor="start" fill="#000" >Ni-LbL+ICI (n=2)</text>
<line x1="1554" y1="2205.5" x2="1611" y2="2205.5" stroke="#ff1f18" stroke-width="2.8" />
<circle cx="1582.5" cy="2205.5" r="5.8" fill="#ff1f18" />
<text x="1645" y="2216.01" font-size="29.6" font-weight="normal" text-anchor="start" fill="#000" >MaL-LbL+ICI (n=5)</text>
</svg>
</body></html>
